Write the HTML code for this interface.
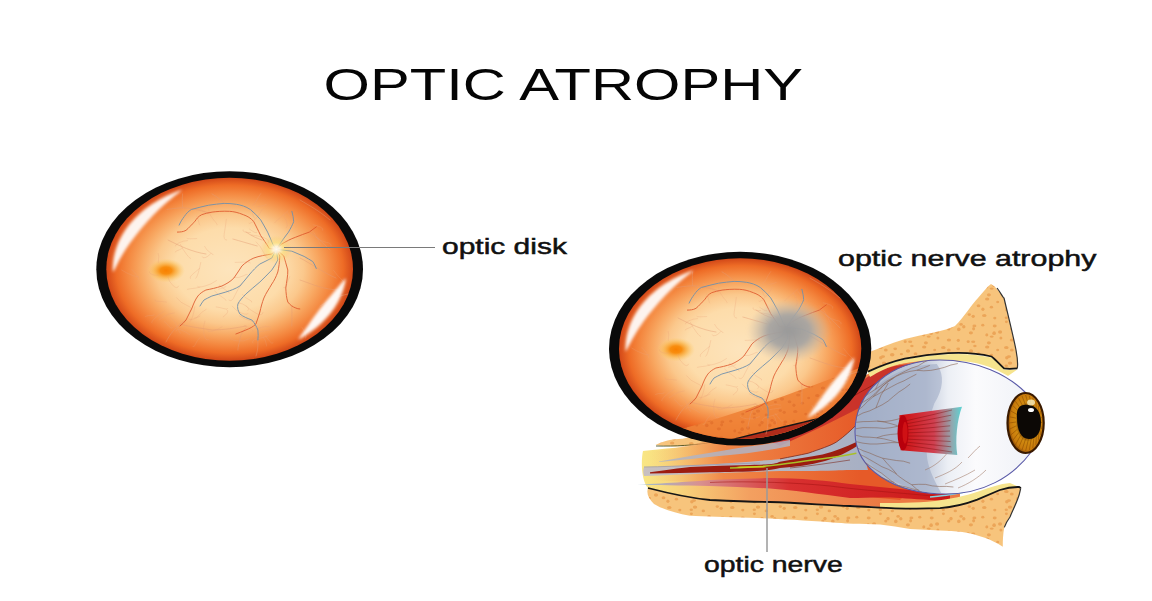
<!DOCTYPE html>
<html><head><meta charset="utf-8">
<style>
html,body{margin:0;padding:0;background:#fff;width:1152px;height:601px;overflow:hidden}
svg{display:block}
text{font-family:"Liberation Sans",sans-serif}
</style></head><body>
<svg width="1152" height="601" viewBox="0 0 1152 601">
<defs>
  <radialGradient id="ret" cx="0.5" cy="0.5" r="0.5">
    <stop offset="0" stop-color="#fde4bc"/>
    <stop offset="0.45" stop-color="#fddcaa"/>
    <stop offset="0.6" stop-color="#fbc88c"/>
    <stop offset="0.72" stop-color="#f8a862"/>
    <stop offset="0.83" stop-color="#f48840"/>
    <stop offset="0.92" stop-color="#ee6c26"/>
    <stop offset="1" stop-color="#d24818"/>
  </radialGradient>
  <radialGradient id="mac">
    <stop offset="0" stop-color="#f88000"/>
    <stop offset="0.3" stop-color="#f88a08" stop-opacity="0.95"/>
    <stop offset="0.6" stop-color="#fab040" stop-opacity="0.7"/>
    <stop offset="1" stop-color="#fcd070" stop-opacity="0"/>
  </radialGradient>
  <radialGradient id="disc">
    <stop offset="0" stop-color="#fffaf0"/>
    <stop offset="0.2" stop-color="#fff4d8" stop-opacity="0.9"/>
    <stop offset="0.45" stop-color="#fae27a" stop-opacity="0.6"/>
    <stop offset="0.75" stop-color="#f8d070" stop-opacity="0.3"/>
    <stop offset="1" stop-color="#fbd890" stop-opacity="0"/>
  </radialGradient>
  <radialGradient id="atro">
    <stop offset="0" stop-color="#999999"/>
    <stop offset="0.5" stop-color="#a6a4a2" stop-opacity="0.95"/>
    <stop offset="1" stop-color="#c8b8a8" stop-opacity="0"/>
  </radialGradient>
  <filter id="blur2" x="-20%" y="-20%" width="140%" height="140%"><feGaussianBlur stdDeviation="1.5"/></filter>
  <filter id="blur1" x="-20%" y="-20%" width="140%" height="140%"><feGaussianBlur stdDeviation="1.4"/></filter>
  <g id="vessels" fill="none" stroke-linecap="round" stroke-linejoin="round">
    <path d="M167.8,276.8 Q169.1,282.1 173.2,285.8 T178.6,286.1 M309.3,227.8 Q314.9,232.5 317.8,239.2 T320.9,245.8 M262.5,209.1 Q259.5,215.1 254.7,219.8 T248.9,223.3 M251.1,235.0 Q257.8,235.4 264.1,237.8 T268.3,243.0 M204.9,321.0 Q202.4,327.5 203.9,334.4 T208.5,339.7 M214.6,291.0 Q218.1,294.5 222.4,297.3 T226.2,300.5 M249.5,338.7 Q243.4,342.1 236.5,340.8 T230.1,337.9 M246.0,306.0 Q250.7,310.5 256.5,313.5 T263.0,312.5 M208.5,209.1 Q209.3,215.3 213.6,219.9 T217.2,225.0 M189.8,334.7 Q185.7,331.7 181.0,329.9 T176.1,331.0 M158.2,253.4 Q159.2,256.6 158.5,259.9 T158.6,263.3 M200.8,262.4 Q199.7,268.0 198.1,273.4 T195.7,278.5 M333.6,270.4 Q337.0,275.4 341.5,279.4 T342.7,285.3 M234.6,277.5 Q239.2,278.2 243.2,275.9 T247.5,274.3 M260.8,193.5 Q257.9,197.4 255.8,201.8 T252.6,205.4 M219.3,285.1 Q222.6,288.1 226.3,290.4 T229.6,293.2 M182.5,248.1 Q180.3,249.7 177.6,250.5 T175.2,252.0 M164.2,321.5 Q167.0,323.6 169.1,326.5 T172.4,327.8 M187.6,240.6 Q182.9,240.7 178.8,242.9 T175.2,246.0 M265.1,335.4 Q267.5,338.3 269.7,341.3 T273.0,343.0 M302.0,327.4 Q304.2,330.8 305.6,334.5 T305.3,338.4 M193.1,205.5 Q198.4,209.1 204.3,211.5 T210.5,213.1 M210.7,253.6 Q208.7,256.4 205.5,257.5 T202.2,256.8 M164.1,311.4 Q159.0,314.1 154.9,318.2 T151.8,323.0 M250.6,232.6 Q247.7,232.7 244.9,232.0 T243.0,229.8 M287.5,212.8 Q290.8,217.5 294.5,221.9 T295.1,227.6 M256.1,241.9 Q261.0,246.5 263.7,252.6 T267.5,258.1 M158.2,275.2 Q154.8,275.7 151.6,274.3 T149.4,271.7 M260.0,331.6 Q263.9,330.9 267.8,330.4 T271.6,329.5 M223.3,316.8 Q225.8,315.3 227.3,312.8 T227.0,309.9 M132.0,269.6 Q134.9,272.5 137.2,275.9 T139.0,279.6 M196.8,216.1 Q198.2,219.0 198.8,222.2 T199.8,225.3 M199.7,287.2 Q195.5,288.3 191.0,288.7 T186.7,289.5 M199.5,268.5 Q195.9,271.4 192.4,274.4 T190.2,278.5 M238.1,302.8 Q242.7,303.3 246.4,306.2 T247.8,310.6 M200.0,337.6 Q197.0,340.2 195.7,343.8 T193.0,346.6 M268.0,335.8 Q262.5,337.7 256.8,339.0 T252.8,343.1 M145.5,316.4 Q148.3,315.1 151.4,315.5 T154.3,314.4 M270.6,327.0 Q265.4,325.6 260.4,327.6 T255.1,327.6 M232.3,306.2 Q235.9,311.2 241.8,313.2 T247.9,313.7 M244.7,325.6 Q248.0,327.0 250.9,328.9 T253.0,331.7 M204.6,246.4 Q206.4,250.3 210.1,252.5 T213.7,254.8 M288.0,210.8 Q283.4,214.9 278.7,219.0 T274.1,223.1 M263.4,337.6 Q265.5,339.8 266.0,342.9 T266.5,346.0 M216.2,306.9 Q220.1,307.5 223.8,308.6 T227.7,308.7 M166.5,302.1 Q162.5,301.5 158.4,301.4 T154.9,299.4 M249.6,229.2 Q251.8,230.8 254.3,232.2 T257.0,232.2 M196.7,238.6 Q193.4,238.7 190.1,238.8 T186.7,238.5 M222.1,326.8 Q217.7,329.7 212.7,331.1 T207.5,330.0 M206.1,309.4 Q201.9,311.7 198.8,315.4 T194.7,318.1 M313.2,224.8 Q317.0,225.4 320.5,227.1 T322.8,230.3 M315.8,237.1 Q320.3,241.2 326.2,242.3 T331.1,246.0 M180.5,244.5 Q183.0,249.8 186.6,254.4 T190.6,258.6 M226.3,219.3 Q225.5,226.4 224.3,233.4 T226.7,240.1 M176.5,297.7 Q180.6,303.1 187.0,305.5 T190.7,311.2 M200.0,316.1 Q196.4,318.1 192.6,319.3 T188.6,318.7 M174.3,312.9 Q168.5,313.3 163.8,316.7 T159.1,320.0 M194.8,306.7 Q194.1,312.0 192.5,317.0 T189.9,321.7 M266.3,204.4 Q263.3,205.8 260.0,206.3 T256.7,206.3 M242.6,294.6 Q244.9,298.0 248.7,299.5 T251.9,302.1 M289.7,276.6 Q287.9,280.6 286.8,284.8 T283.7,287.8 M121.6,270.0 Q126.8,273.4 132.7,275.5 T138.9,276.7 M239.4,315.9 Q245.0,319.5 251.5,321.1 T257.7,319.0 M283.3,215.0 Q286.0,218.7 286.9,223.2 T286.2,227.8 M251.3,208.4 Q252.3,211.8 253.0,215.3 T255.0,218.3 M170.7,317.6 Q175.8,321.5 177.7,327.6 T180.6,333.4 M242.1,283.5 Q237.5,289.1 234.7,295.8 T229.0,300.2 M225.9,286.6 Q223.5,287.9 220.9,288.5 T218.3,289.2 M235.2,262.4 Q240.4,262.2 245.5,262.0 T250.6,262.8 M216.5,280.6 Q211.0,284.6 204.4,286.2 T197.5,286.6" stroke="#e8a07a" stroke-width="0.5" opacity="0.55"/>
    <g stroke="#e39a74" stroke-width="0.6" opacity="0.75">
      <path d="M224.2,203.4 C220,199 216,196 212,193.9"/>
      <path d="M182.6,193.9 C182,198 182.4,203 182.6,207.8"/>
      <path d="M208.6,213 C200,210 190,208 182.6,207.8 C176,208 170,209 167,209.5"/>
      <path d="M232.9,239 C240,241 250,244 257.2,246"/>
      <path d="M246,232 C252,236 256,238 262,240"/>
      <path d="M180,324 C190,327 200,328 212,330 C224,330 236,328 246,326"/>
      <path d="M245.9,328 C242,332 240,336 239.9,340 C239,344 238,346 237.9,350"/>
      <path d="M291.8,306 C292,312 292,318 291.8,326"/>
      <path d="M257.9,340 C258,346 258,350 256,356"/>
      <path d="M309.3,232.1 C316,236 322,242 330,250"/>
      <path d="M300,258 C312,264 322,272 336,278"/>
      <path d="M186,320 C176,326 170,334 166,342"/>
      <path d="M168,240 C180,246 192,252 206,254"/>
      <path d="M300,280 C312,284 324,290 340,290"/>
      <path d="M300,200 C310,206 318,210 330,220"/>
      <path d="M320,306 C330,300 338,296 348,294"/>
    </g>
    <g stroke="#dc5228" stroke-width="0.95" opacity="0.85">
      <path d="M276.3,249.3 L269.4,248.6 C266,243 263,239 260.7,235.6 C258,230 256,226 253.8,221.7 C251,218 247,216 243.3,214.7 C238,212.5 234,211.6 229.4,211.3 C222,211 217,211.5 212.1,212.1 C208,212.8 205,213.6 201.7,214.7 C198,216.5 196.5,219 194.7,221.7 C191,225 189,228 186,230.3 C183,232 180,232 177.4,232.1"/>
      <path d="M276.3,249.3 L271.8,254 C266,255 259,256 253.9,258 C249,260 245,263 241.9,266 C239,270 237,274 233.9,278 C230,282 226,284 221.9,286 C216,288 211,289 205.9,290 C202,292 200,293.5 197.9,296 C195,300 193.5,304 192,308 C190,312 188,316 186,320 C184,322.5 182,324.5 180,326"/>
      <path d="M276.3,249.3 L279.8,256 C279.5,262 279,267 277.8,272 C276,277 274,281 271.8,284 C269,289 266,293 263.9,298 C262,303 261,307 259.9,312 C258.5,316 257.5,320 255.9,324 C253,327 249.5,328.5 245.9,330 C242,331.5 239,333 235.9,334"/>
      <path d="M276.3,249.3 L283.8,256 C285,260.5 286.5,265 287.8,270 C288,276 286.5,282 285.8,288 C286,293 286.5,298 287.8,302 C290,305 293,307 295.8,308 C297,308.5 298.5,309 299.8,309"/>
      <path d="M276.3,249.3 L281.5,244.2 C286,241.5 290.5,239 295.4,237.3 C300,235.5 305,233.5 309.3,232.1 C312,230 314,228.5 316.3,226.9"/>
    </g>
    <g stroke="#7090ac" stroke-width="1.0" opacity="0.9">
      <path d="M276.3,249.3 L272.8,244.2 C271,240 269.5,236 267.6,232.1 C265.5,228 263,224 260.7,219.9 C257.5,216 254,212.5 250.3,209.5 C246,206.5 241,205 236.4,204.3 C232,203.6 228,203.4 224.2,203.4 C219,203.8 214,204.4 208.6,205.2 C203,206.5 197,207.8 191.3,209.5 C188,211.5 186,214 184.3,216.5 C182,219.5 180.5,222 179.1,225.1"/>
      <path d="M276.3,249.3 L271.8,258 C268,260 264,262 259.9,264 C256,267 253,270.5 249.9,274 C246.5,278 243.5,282 239.9,286 C235,289 230.5,290.5 225.9,292 C221,293.5 216.5,294.7 211.9,296 C209,297.5 206.5,298.5 204,300 C202.5,302 201,304 200,306"/>
      <path d="M276.3,249.3 L277.8,260 C276,263.5 274,267 271.8,270 C268,274 264,278 259.9,282 C255,286 250.5,290 245.9,294 C242.5,297.5 239.5,300.5 237.9,304 C237,307.5 238,311 239.9,314 C243.5,317 248,318.5 251.9,320 C254.5,323 256.5,326.5 257.9,330 C258.3,333.5 258.2,337 257.9,340"/>
      <path d="M276.3,249.3 L279.8,244.2 C282.5,240 285.5,236 288.5,232.1 C290.5,228.5 292.5,225 293.7,221.7 C293.5,218 292.8,214.5 291.9,211.3"/>
      <path d="M276.3,249.3 L291.9,251.2 C296,253 300,254.7 304.1,256.4 C307,258 310,259.8 312.8,261.6 C314.3,264 315.5,266 316.3,268.5"/>
    </g>
  </g>
  
  <pattern id="dots" width="63" height="48" patternUnits="userSpaceOnUse"><rect width="63" height="48" fill="#f7c47c"/><g fill="#eaa052" opacity="0.85"><ellipse cx="-59.1" cy="-43.9" rx="2.2" ry="1.5"/><ellipse cx="-59.1" cy="4.1" rx="2.2" ry="1.5"/><ellipse cx="-59.1" cy="52.1" rx="2.2" ry="1.5"/><ellipse cx="3.9" cy="-43.9" rx="2.2" ry="1.5"/><ellipse cx="3.9" cy="4.1" rx="2.2" ry="1.5"/><ellipse cx="3.9" cy="52.1" rx="2.2" ry="1.5"/><ellipse cx="66.9" cy="-43.9" rx="2.2" ry="1.5"/><ellipse cx="66.9" cy="4.1" rx="2.2" ry="1.5"/><ellipse cx="66.9" cy="52.1" rx="2.2" ry="1.5"/><ellipse cx="-49.7" cy="-43.7" rx="1.6" ry="1.6"/><ellipse cx="-49.7" cy="4.3" rx="1.6" ry="1.6"/><ellipse cx="-49.7" cy="52.3" rx="1.6" ry="1.6"/><ellipse cx="13.3" cy="-43.7" rx="1.6" ry="1.6"/><ellipse cx="13.3" cy="4.3" rx="1.6" ry="1.6"/><ellipse cx="13.3" cy="52.3" rx="1.6" ry="1.6"/><ellipse cx="76.3" cy="-43.7" rx="1.6" ry="1.6"/><ellipse cx="76.3" cy="4.3" rx="1.6" ry="1.6"/><ellipse cx="76.3" cy="52.3" rx="1.6" ry="1.6"/><ellipse cx="-39.8" cy="-42.3" rx="1.6" ry="1.4"/><ellipse cx="-39.8" cy="5.7" rx="1.6" ry="1.4"/><ellipse cx="-39.8" cy="53.7" rx="1.6" ry="1.4"/><ellipse cx="23.2" cy="-42.3" rx="1.6" ry="1.4"/><ellipse cx="23.2" cy="5.7" rx="1.6" ry="1.4"/><ellipse cx="23.2" cy="53.7" rx="1.6" ry="1.4"/><ellipse cx="86.2" cy="-42.3" rx="1.6" ry="1.4"/><ellipse cx="86.2" cy="5.7" rx="1.6" ry="1.4"/><ellipse cx="86.2" cy="53.7" rx="1.6" ry="1.4"/><ellipse cx="-34.8" cy="-42.2" rx="2.1" ry="1.2"/><ellipse cx="-34.8" cy="5.8" rx="2.1" ry="1.2"/><ellipse cx="-34.8" cy="53.8" rx="2.1" ry="1.2"/><ellipse cx="28.2" cy="-42.2" rx="2.1" ry="1.2"/><ellipse cx="28.2" cy="5.8" rx="2.1" ry="1.2"/><ellipse cx="28.2" cy="53.8" rx="2.1" ry="1.2"/><ellipse cx="91.2" cy="-42.2" rx="2.1" ry="1.2"/><ellipse cx="91.2" cy="5.8" rx="2.1" ry="1.2"/><ellipse cx="91.2" cy="53.8" rx="2.1" ry="1.2"/><ellipse cx="-19.1" cy="-41.2" rx="2.0" ry="1.6"/><ellipse cx="-19.1" cy="6.8" rx="2.0" ry="1.6"/><ellipse cx="-19.1" cy="54.8" rx="2.0" ry="1.6"/><ellipse cx="43.9" cy="-41.2" rx="2.0" ry="1.6"/><ellipse cx="43.9" cy="6.8" rx="2.0" ry="1.6"/><ellipse cx="43.9" cy="54.8" rx="2.0" ry="1.6"/><ellipse cx="106.9" cy="-41.2" rx="2.0" ry="1.6"/><ellipse cx="106.9" cy="6.8" rx="2.0" ry="1.6"/><ellipse cx="106.9" cy="54.8" rx="2.0" ry="1.6"/><ellipse cx="-16.3" cy="-47.4" rx="1.9" ry="1.2"/><ellipse cx="-16.3" cy="0.6" rx="1.9" ry="1.2"/><ellipse cx="-16.3" cy="48.6" rx="1.9" ry="1.2"/><ellipse cx="46.7" cy="-47.4" rx="1.9" ry="1.2"/><ellipse cx="46.7" cy="0.6" rx="1.9" ry="1.2"/><ellipse cx="46.7" cy="48.6" rx="1.9" ry="1.2"/><ellipse cx="109.7" cy="-47.4" rx="1.9" ry="1.2"/><ellipse cx="109.7" cy="0.6" rx="1.9" ry="1.2"/><ellipse cx="109.7" cy="48.6" rx="1.9" ry="1.2"/><ellipse cx="-7.1" cy="-45.9" rx="1.5" ry="1.5"/><ellipse cx="-7.1" cy="2.1" rx="1.5" ry="1.5"/><ellipse cx="-7.1" cy="50.1" rx="1.5" ry="1.5"/><ellipse cx="55.9" cy="-45.9" rx="1.5" ry="1.5"/><ellipse cx="55.9" cy="2.1" rx="1.5" ry="1.5"/><ellipse cx="55.9" cy="50.1" rx="1.5" ry="1.5"/><ellipse cx="118.9" cy="-45.9" rx="1.5" ry="1.5"/><ellipse cx="118.9" cy="2.1" rx="1.5" ry="1.5"/><ellipse cx="118.9" cy="50.1" rx="1.5" ry="1.5"/><ellipse cx="-59.2" cy="-34.0" rx="1.9" ry="1.6"/><ellipse cx="-59.2" cy="14.0" rx="1.9" ry="1.6"/><ellipse cx="-59.2" cy="62.0" rx="1.9" ry="1.6"/><ellipse cx="3.8" cy="-34.0" rx="1.9" ry="1.6"/><ellipse cx="3.8" cy="14.0" rx="1.9" ry="1.6"/><ellipse cx="3.8" cy="62.0" rx="1.9" ry="1.6"/><ellipse cx="66.8" cy="-34.0" rx="1.9" ry="1.6"/><ellipse cx="66.8" cy="14.0" rx="1.9" ry="1.6"/><ellipse cx="66.8" cy="62.0" rx="1.9" ry="1.6"/><ellipse cx="-49.8" cy="-35.2" rx="1.9" ry="1.4"/><ellipse cx="-49.8" cy="12.8" rx="1.9" ry="1.4"/><ellipse cx="-49.8" cy="60.8" rx="1.9" ry="1.4"/><ellipse cx="13.2" cy="-35.2" rx="1.9" ry="1.4"/><ellipse cx="13.2" cy="12.8" rx="1.9" ry="1.4"/><ellipse cx="13.2" cy="60.8" rx="1.9" ry="1.4"/><ellipse cx="76.2" cy="-35.2" rx="1.9" ry="1.4"/><ellipse cx="76.2" cy="12.8" rx="1.9" ry="1.4"/><ellipse cx="76.2" cy="60.8" rx="1.9" ry="1.4"/><ellipse cx="-37.0" cy="-33.0" rx="2.2" ry="1.7"/><ellipse cx="-37.0" cy="15.0" rx="2.2" ry="1.7"/><ellipse cx="-37.0" cy="63.0" rx="2.2" ry="1.7"/><ellipse cx="26.0" cy="-33.0" rx="2.2" ry="1.7"/><ellipse cx="26.0" cy="15.0" rx="2.2" ry="1.7"/><ellipse cx="26.0" cy="63.0" rx="2.2" ry="1.7"/><ellipse cx="89.0" cy="-33.0" rx="2.2" ry="1.7"/><ellipse cx="89.0" cy="15.0" rx="2.2" ry="1.7"/><ellipse cx="89.0" cy="63.0" rx="2.2" ry="1.7"/><ellipse cx="-33.1" cy="-38.0" rx="1.7" ry="1.2"/><ellipse cx="-33.1" cy="10.0" rx="1.7" ry="1.2"/><ellipse cx="-33.1" cy="58.0" rx="1.7" ry="1.2"/><ellipse cx="29.9" cy="-38.0" rx="1.7" ry="1.2"/><ellipse cx="29.9" cy="10.0" rx="1.7" ry="1.2"/><ellipse cx="29.9" cy="58.0" rx="1.7" ry="1.2"/><ellipse cx="92.9" cy="-38.0" rx="1.7" ry="1.2"/><ellipse cx="92.9" cy="10.0" rx="1.7" ry="1.2"/><ellipse cx="92.9" cy="58.0" rx="1.7" ry="1.2"/><ellipse cx="-20.8" cy="-36.9" rx="2.2" ry="1.5"/><ellipse cx="-20.8" cy="11.1" rx="2.2" ry="1.5"/><ellipse cx="-20.8" cy="59.1" rx="2.2" ry="1.5"/><ellipse cx="42.2" cy="-36.9" rx="2.2" ry="1.5"/><ellipse cx="42.2" cy="11.1" rx="2.2" ry="1.5"/><ellipse cx="42.2" cy="59.1" rx="2.2" ry="1.5"/><ellipse cx="105.2" cy="-36.9" rx="2.2" ry="1.5"/><ellipse cx="105.2" cy="11.1" rx="2.2" ry="1.5"/><ellipse cx="105.2" cy="59.1" rx="2.2" ry="1.5"/><ellipse cx="-10.3" cy="-34.0" rx="1.5" ry="1.3"/><ellipse cx="-10.3" cy="14.0" rx="1.5" ry="1.3"/><ellipse cx="-10.3" cy="62.0" rx="1.5" ry="1.3"/><ellipse cx="52.7" cy="-34.0" rx="1.5" ry="1.3"/><ellipse cx="52.7" cy="14.0" rx="1.5" ry="1.3"/><ellipse cx="52.7" cy="62.0" rx="1.5" ry="1.3"/><ellipse cx="115.7" cy="-34.0" rx="1.5" ry="1.3"/><ellipse cx="115.7" cy="14.0" rx="1.5" ry="1.3"/><ellipse cx="115.7" cy="62.0" rx="1.5" ry="1.3"/><ellipse cx="-1.7" cy="-36.4" rx="2.3" ry="1.5"/><ellipse cx="-1.7" cy="11.6" rx="2.3" ry="1.5"/><ellipse cx="-1.7" cy="59.6" rx="2.3" ry="1.5"/><ellipse cx="61.3" cy="-36.4" rx="2.3" ry="1.5"/><ellipse cx="61.3" cy="11.6" rx="2.3" ry="1.5"/><ellipse cx="61.3" cy="59.6" rx="2.3" ry="1.5"/><ellipse cx="124.3" cy="-36.4" rx="2.3" ry="1.5"/><ellipse cx="124.3" cy="11.6" rx="2.3" ry="1.5"/><ellipse cx="124.3" cy="59.6" rx="2.3" ry="1.5"/><ellipse cx="-62.0" cy="-27.4" rx="2.1" ry="1.4"/><ellipse cx="-62.0" cy="20.6" rx="2.1" ry="1.4"/><ellipse cx="-62.0" cy="68.6" rx="2.1" ry="1.4"/><ellipse cx="1.0" cy="-27.4" rx="2.1" ry="1.4"/><ellipse cx="1.0" cy="20.6" rx="2.1" ry="1.4"/><ellipse cx="1.0" cy="68.6" rx="2.1" ry="1.4"/><ellipse cx="64.0" cy="-27.4" rx="2.1" ry="1.4"/><ellipse cx="64.0" cy="20.6" rx="2.1" ry="1.4"/><ellipse cx="64.0" cy="68.6" rx="2.1" ry="1.4"/><ellipse cx="-52.8" cy="-29.3" rx="2.3" ry="1.7"/><ellipse cx="-52.8" cy="18.7" rx="2.3" ry="1.7"/><ellipse cx="-52.8" cy="66.7" rx="2.3" ry="1.7"/><ellipse cx="10.2" cy="-29.3" rx="2.3" ry="1.7"/><ellipse cx="10.2" cy="18.7" rx="2.3" ry="1.7"/><ellipse cx="10.2" cy="66.7" rx="2.3" ry="1.7"/><ellipse cx="73.2" cy="-29.3" rx="2.3" ry="1.7"/><ellipse cx="73.2" cy="18.7" rx="2.3" ry="1.7"/><ellipse cx="73.2" cy="66.7" rx="2.3" ry="1.7"/><ellipse cx="-43.6" cy="-29.9" rx="1.6" ry="1.2"/><ellipse cx="-43.6" cy="18.1" rx="1.6" ry="1.2"/><ellipse cx="-43.6" cy="66.1" rx="1.6" ry="1.2"/><ellipse cx="19.4" cy="-29.9" rx="1.6" ry="1.2"/><ellipse cx="19.4" cy="18.1" rx="1.6" ry="1.2"/><ellipse cx="19.4" cy="66.1" rx="1.6" ry="1.2"/><ellipse cx="82.4" cy="-29.9" rx="1.6" ry="1.2"/><ellipse cx="82.4" cy="18.1" rx="1.6" ry="1.2"/><ellipse cx="82.4" cy="66.1" rx="1.6" ry="1.2"/><ellipse cx="-29.5" cy="-30.3" rx="1.9" ry="1.5"/><ellipse cx="-29.5" cy="17.7" rx="1.9" ry="1.5"/><ellipse cx="-29.5" cy="65.7" rx="1.9" ry="1.5"/><ellipse cx="33.5" cy="-30.3" rx="1.9" ry="1.5"/><ellipse cx="33.5" cy="17.7" rx="1.9" ry="1.5"/><ellipse cx="33.5" cy="65.7" rx="1.9" ry="1.5"/><ellipse cx="96.5" cy="-30.3" rx="1.9" ry="1.5"/><ellipse cx="96.5" cy="17.7" rx="1.9" ry="1.5"/><ellipse cx="96.5" cy="65.7" rx="1.9" ry="1.5"/><ellipse cx="-25.1" cy="-26.7" rx="1.6" ry="1.7"/><ellipse cx="-25.1" cy="21.3" rx="1.6" ry="1.7"/><ellipse cx="-25.1" cy="69.3" rx="1.6" ry="1.7"/><ellipse cx="37.9" cy="-26.7" rx="1.6" ry="1.7"/><ellipse cx="37.9" cy="21.3" rx="1.6" ry="1.7"/><ellipse cx="37.9" cy="69.3" rx="1.6" ry="1.7"/><ellipse cx="100.9" cy="-26.7" rx="1.6" ry="1.7"/><ellipse cx="100.9" cy="21.3" rx="1.6" ry="1.7"/><ellipse cx="100.9" cy="69.3" rx="1.6" ry="1.7"/><ellipse cx="-16.6" cy="-28.8" rx="1.7" ry="1.4"/><ellipse cx="-16.6" cy="19.2" rx="1.7" ry="1.4"/><ellipse cx="-16.6" cy="67.2" rx="1.7" ry="1.4"/><ellipse cx="46.4" cy="-28.8" rx="1.7" ry="1.4"/><ellipse cx="46.4" cy="19.2" rx="1.7" ry="1.4"/><ellipse cx="46.4" cy="67.2" rx="1.7" ry="1.4"/><ellipse cx="109.4" cy="-28.8" rx="1.7" ry="1.4"/><ellipse cx="109.4" cy="19.2" rx="1.7" ry="1.4"/><ellipse cx="109.4" cy="67.2" rx="1.7" ry="1.4"/><ellipse cx="-1.2" cy="-26.3" rx="1.7" ry="1.8"/><ellipse cx="-1.2" cy="21.7" rx="1.7" ry="1.8"/><ellipse cx="-1.2" cy="69.7" rx="1.7" ry="1.8"/><ellipse cx="61.8" cy="-26.3" rx="1.7" ry="1.8"/><ellipse cx="61.8" cy="21.7" rx="1.7" ry="1.8"/><ellipse cx="61.8" cy="69.7" rx="1.7" ry="1.8"/><ellipse cx="124.8" cy="-26.3" rx="1.7" ry="1.8"/><ellipse cx="124.8" cy="21.7" rx="1.7" ry="1.8"/><ellipse cx="124.8" cy="69.7" rx="1.7" ry="1.8"/><ellipse cx="-60.9" cy="-20.9" rx="2.2" ry="1.6"/><ellipse cx="-60.9" cy="27.1" rx="2.2" ry="1.6"/><ellipse cx="-60.9" cy="75.1" rx="2.2" ry="1.6"/><ellipse cx="2.1" cy="-20.9" rx="2.2" ry="1.6"/><ellipse cx="2.1" cy="27.1" rx="2.2" ry="1.6"/><ellipse cx="2.1" cy="75.1" rx="2.2" ry="1.6"/><ellipse cx="65.1" cy="-20.9" rx="2.2" ry="1.6"/><ellipse cx="65.1" cy="27.1" rx="2.2" ry="1.6"/><ellipse cx="65.1" cy="75.1" rx="2.2" ry="1.6"/><ellipse cx="-52.7" cy="-17.1" rx="1.7" ry="1.4"/><ellipse cx="-52.7" cy="30.9" rx="1.7" ry="1.4"/><ellipse cx="-52.7" cy="78.9" rx="1.7" ry="1.4"/><ellipse cx="10.3" cy="-17.1" rx="1.7" ry="1.4"/><ellipse cx="10.3" cy="30.9" rx="1.7" ry="1.4"/><ellipse cx="10.3" cy="78.9" rx="1.7" ry="1.4"/><ellipse cx="73.3" cy="-17.1" rx="1.7" ry="1.4"/><ellipse cx="73.3" cy="30.9" rx="1.7" ry="1.4"/><ellipse cx="73.3" cy="78.9" rx="1.7" ry="1.4"/><ellipse cx="-38.7" cy="-21.4" rx="1.7" ry="1.3"/><ellipse cx="-38.7" cy="26.6" rx="1.7" ry="1.3"/><ellipse cx="-38.7" cy="74.6" rx="1.7" ry="1.3"/><ellipse cx="24.3" cy="-21.4" rx="1.7" ry="1.3"/><ellipse cx="24.3" cy="26.6" rx="1.7" ry="1.3"/><ellipse cx="24.3" cy="74.6" rx="1.7" ry="1.3"/><ellipse cx="87.3" cy="-21.4" rx="1.7" ry="1.3"/><ellipse cx="87.3" cy="26.6" rx="1.7" ry="1.3"/><ellipse cx="87.3" cy="74.6" rx="1.7" ry="1.3"/><ellipse cx="-34.8" cy="-19.7" rx="1.7" ry="1.6"/><ellipse cx="-34.8" cy="28.3" rx="1.7" ry="1.6"/><ellipse cx="-34.8" cy="76.3" rx="1.7" ry="1.6"/><ellipse cx="28.2" cy="-19.7" rx="1.7" ry="1.6"/><ellipse cx="28.2" cy="28.3" rx="1.7" ry="1.6"/><ellipse cx="28.2" cy="76.3" rx="1.7" ry="1.6"/><ellipse cx="91.2" cy="-19.7" rx="1.7" ry="1.6"/><ellipse cx="91.2" cy="28.3" rx="1.7" ry="1.6"/><ellipse cx="91.2" cy="76.3" rx="1.7" ry="1.6"/><ellipse cx="-23.7" cy="-20.6" rx="2.3" ry="1.5"/><ellipse cx="-23.7" cy="27.4" rx="2.3" ry="1.5"/><ellipse cx="-23.7" cy="75.4" rx="2.3" ry="1.5"/><ellipse cx="39.3" cy="-20.6" rx="2.3" ry="1.5"/><ellipse cx="39.3" cy="27.4" rx="2.3" ry="1.5"/><ellipse cx="39.3" cy="75.4" rx="2.3" ry="1.5"/><ellipse cx="102.3" cy="-20.6" rx="2.3" ry="1.5"/><ellipse cx="102.3" cy="27.4" rx="2.3" ry="1.5"/><ellipse cx="102.3" cy="75.4" rx="2.3" ry="1.5"/><ellipse cx="-13.2" cy="-17.9" rx="1.6" ry="1.3"/><ellipse cx="-13.2" cy="30.1" rx="1.6" ry="1.3"/><ellipse cx="-13.2" cy="78.1" rx="1.6" ry="1.3"/><ellipse cx="49.8" cy="-17.9" rx="1.6" ry="1.3"/><ellipse cx="49.8" cy="30.1" rx="1.6" ry="1.3"/><ellipse cx="49.8" cy="78.1" rx="1.6" ry="1.3"/><ellipse cx="112.8" cy="-17.9" rx="1.6" ry="1.3"/><ellipse cx="112.8" cy="30.1" rx="1.6" ry="1.3"/><ellipse cx="112.8" cy="78.1" rx="1.6" ry="1.3"/><ellipse cx="-1.7" cy="-18.2" rx="1.7" ry="1.3"/><ellipse cx="-1.7" cy="29.8" rx="1.7" ry="1.3"/><ellipse cx="-1.7" cy="77.8" rx="1.7" ry="1.3"/><ellipse cx="61.3" cy="-18.2" rx="1.7" ry="1.3"/><ellipse cx="61.3" cy="29.8" rx="1.7" ry="1.3"/><ellipse cx="61.3" cy="77.8" rx="1.7" ry="1.3"/><ellipse cx="124.3" cy="-18.2" rx="1.7" ry="1.3"/><ellipse cx="124.3" cy="29.8" rx="1.7" ry="1.3"/><ellipse cx="124.3" cy="77.8" rx="1.7" ry="1.3"/><ellipse cx="-57.0" cy="-9.4" rx="1.7" ry="1.9"/><ellipse cx="-57.0" cy="38.6" rx="1.7" ry="1.9"/><ellipse cx="-57.0" cy="86.6" rx="1.7" ry="1.9"/><ellipse cx="6.0" cy="-9.4" rx="1.7" ry="1.9"/><ellipse cx="6.0" cy="38.6" rx="1.7" ry="1.9"/><ellipse cx="6.0" cy="86.6" rx="1.7" ry="1.9"/><ellipse cx="69.0" cy="-9.4" rx="1.7" ry="1.9"/><ellipse cx="69.0" cy="38.6" rx="1.7" ry="1.9"/><ellipse cx="69.0" cy="86.6" rx="1.7" ry="1.9"/><ellipse cx="-46.9" cy="-11.6" rx="1.8" ry="1.3"/><ellipse cx="-46.9" cy="36.4" rx="1.8" ry="1.3"/><ellipse cx="-46.9" cy="84.4" rx="1.8" ry="1.3"/><ellipse cx="16.1" cy="-11.6" rx="1.8" ry="1.3"/><ellipse cx="16.1" cy="36.4" rx="1.8" ry="1.3"/><ellipse cx="16.1" cy="84.4" rx="1.8" ry="1.3"/><ellipse cx="79.1" cy="-11.6" rx="1.8" ry="1.3"/><ellipse cx="79.1" cy="36.4" rx="1.8" ry="1.3"/><ellipse cx="79.1" cy="84.4" rx="1.8" ry="1.3"/><ellipse cx="-44.2" cy="-9.2" rx="1.7" ry="1.7"/><ellipse cx="-44.2" cy="38.8" rx="1.7" ry="1.7"/><ellipse cx="-44.2" cy="86.8" rx="1.7" ry="1.7"/><ellipse cx="18.8" cy="-9.2" rx="1.7" ry="1.7"/><ellipse cx="18.8" cy="38.8" rx="1.7" ry="1.7"/><ellipse cx="18.8" cy="86.8" rx="1.7" ry="1.7"/><ellipse cx="81.8" cy="-9.2" rx="1.7" ry="1.7"/><ellipse cx="81.8" cy="38.8" rx="1.7" ry="1.7"/><ellipse cx="81.8" cy="86.8" rx="1.7" ry="1.7"/><ellipse cx="-33.6" cy="-10.1" rx="2.0" ry="1.4"/><ellipse cx="-33.6" cy="37.9" rx="2.0" ry="1.4"/><ellipse cx="-33.6" cy="85.9" rx="2.0" ry="1.4"/><ellipse cx="29.4" cy="-10.1" rx="2.0" ry="1.4"/><ellipse cx="29.4" cy="37.9" rx="2.0" ry="1.4"/><ellipse cx="29.4" cy="85.9" rx="2.0" ry="1.4"/><ellipse cx="92.4" cy="-10.1" rx="2.0" ry="1.4"/><ellipse cx="92.4" cy="37.9" rx="2.0" ry="1.4"/><ellipse cx="92.4" cy="85.9" rx="2.0" ry="1.4"/><ellipse cx="-25.2" cy="-10.8" rx="1.6" ry="1.4"/><ellipse cx="-25.2" cy="37.2" rx="1.6" ry="1.4"/><ellipse cx="-25.2" cy="85.2" rx="1.6" ry="1.4"/><ellipse cx="37.8" cy="-10.8" rx="1.6" ry="1.4"/><ellipse cx="37.8" cy="37.2" rx="1.6" ry="1.4"/><ellipse cx="37.8" cy="85.2" rx="1.6" ry="1.4"/><ellipse cx="100.8" cy="-10.8" rx="1.6" ry="1.4"/><ellipse cx="100.8" cy="37.2" rx="1.6" ry="1.4"/><ellipse cx="100.8" cy="85.2" rx="1.6" ry="1.4"/><ellipse cx="-13.3" cy="-10.0" rx="2.0" ry="1.4"/><ellipse cx="-13.3" cy="38.0" rx="2.0" ry="1.4"/><ellipse cx="-13.3" cy="86.0" rx="2.0" ry="1.4"/><ellipse cx="49.7" cy="-10.0" rx="2.0" ry="1.4"/><ellipse cx="49.7" cy="38.0" rx="2.0" ry="1.4"/><ellipse cx="49.7" cy="86.0" rx="2.0" ry="1.4"/><ellipse cx="112.7" cy="-10.0" rx="2.0" ry="1.4"/><ellipse cx="112.7" cy="38.0" rx="2.0" ry="1.4"/><ellipse cx="112.7" cy="86.0" rx="2.0" ry="1.4"/><ellipse cx="-1.6" cy="-14.2" rx="1.5" ry="1.4"/><ellipse cx="-1.6" cy="33.8" rx="1.5" ry="1.4"/><ellipse cx="-1.6" cy="81.8" rx="1.5" ry="1.4"/><ellipse cx="61.4" cy="-14.2" rx="1.5" ry="1.4"/><ellipse cx="61.4" cy="33.8" rx="1.5" ry="1.4"/><ellipse cx="61.4" cy="81.8" rx="1.5" ry="1.4"/><ellipse cx="124.4" cy="-14.2" rx="1.5" ry="1.4"/><ellipse cx="124.4" cy="33.8" rx="1.5" ry="1.4"/><ellipse cx="124.4" cy="81.8" rx="1.5" ry="1.4"/><ellipse cx="-59.2" cy="-7.1" rx="1.6" ry="1.5"/><ellipse cx="-59.2" cy="40.9" rx="1.6" ry="1.5"/><ellipse cx="-59.2" cy="88.9" rx="1.6" ry="1.5"/><ellipse cx="3.8" cy="-7.1" rx="1.6" ry="1.5"/><ellipse cx="3.8" cy="40.9" rx="1.6" ry="1.5"/><ellipse cx="3.8" cy="88.9" rx="1.6" ry="1.5"/><ellipse cx="66.8" cy="-7.1" rx="1.6" ry="1.5"/><ellipse cx="66.8" cy="40.9" rx="1.6" ry="1.5"/><ellipse cx="66.8" cy="88.9" rx="1.6" ry="1.5"/><ellipse cx="-49.2" cy="-6.6" rx="1.8" ry="1.8"/><ellipse cx="-49.2" cy="41.4" rx="1.8" ry="1.8"/><ellipse cx="-49.2" cy="89.4" rx="1.8" ry="1.8"/><ellipse cx="13.8" cy="-6.6" rx="1.8" ry="1.8"/><ellipse cx="13.8" cy="41.4" rx="1.8" ry="1.8"/><ellipse cx="13.8" cy="89.4" rx="1.8" ry="1.8"/><ellipse cx="76.8" cy="-6.6" rx="1.8" ry="1.8"/><ellipse cx="76.8" cy="41.4" rx="1.8" ry="1.8"/><ellipse cx="76.8" cy="89.4" rx="1.8" ry="1.8"/><ellipse cx="-37.1" cy="-3.2" rx="2.1" ry="1.6"/><ellipse cx="-37.1" cy="44.8" rx="2.1" ry="1.6"/><ellipse cx="-37.1" cy="92.8" rx="2.1" ry="1.6"/><ellipse cx="25.9" cy="-3.2" rx="2.1" ry="1.6"/><ellipse cx="25.9" cy="44.8" rx="2.1" ry="1.6"/><ellipse cx="25.9" cy="92.8" rx="2.1" ry="1.6"/><ellipse cx="88.9" cy="-3.2" rx="2.1" ry="1.6"/><ellipse cx="88.9" cy="44.8" rx="2.1" ry="1.6"/><ellipse cx="88.9" cy="92.8" rx="2.1" ry="1.6"/><ellipse cx="-34.4" cy="-7.3" rx="1.5" ry="1.8"/><ellipse cx="-34.4" cy="40.7" rx="1.5" ry="1.8"/><ellipse cx="-34.4" cy="88.7" rx="1.5" ry="1.8"/><ellipse cx="28.6" cy="-7.3" rx="1.5" ry="1.8"/><ellipse cx="28.6" cy="40.7" rx="1.5" ry="1.8"/><ellipse cx="28.6" cy="88.7" rx="1.5" ry="1.8"/><ellipse cx="91.6" cy="-7.3" rx="1.5" ry="1.8"/><ellipse cx="91.6" cy="40.7" rx="1.5" ry="1.8"/><ellipse cx="91.6" cy="88.7" rx="1.5" ry="1.8"/><ellipse cx="-21.2" cy="-1.2" rx="1.5" ry="1.6"/><ellipse cx="-21.2" cy="46.8" rx="1.5" ry="1.6"/><ellipse cx="-21.2" cy="94.8" rx="1.5" ry="1.6"/><ellipse cx="41.8" cy="-1.2" rx="1.5" ry="1.6"/><ellipse cx="41.8" cy="46.8" rx="1.5" ry="1.6"/><ellipse cx="41.8" cy="94.8" rx="1.5" ry="1.6"/><ellipse cx="104.8" cy="-1.2" rx="1.5" ry="1.6"/><ellipse cx="104.8" cy="46.8" rx="1.5" ry="1.6"/><ellipse cx="104.8" cy="94.8" rx="1.5" ry="1.6"/><ellipse cx="-13.9" cy="-2.8" rx="1.8" ry="1.9"/><ellipse cx="-13.9" cy="45.2" rx="1.8" ry="1.9"/><ellipse cx="-13.9" cy="93.2" rx="1.8" ry="1.9"/><ellipse cx="49.1" cy="-2.8" rx="1.8" ry="1.9"/><ellipse cx="49.1" cy="45.2" rx="1.8" ry="1.9"/><ellipse cx="49.1" cy="93.2" rx="1.8" ry="1.9"/><ellipse cx="112.1" cy="-2.8" rx="1.8" ry="1.9"/><ellipse cx="112.1" cy="45.2" rx="1.8" ry="1.9"/><ellipse cx="112.1" cy="93.2" rx="1.8" ry="1.9"/><ellipse cx="-7.9" cy="-4.0" rx="2.1" ry="1.8"/><ellipse cx="-7.9" cy="44.0" rx="2.1" ry="1.8"/><ellipse cx="-7.9" cy="92.0" rx="2.1" ry="1.8"/><ellipse cx="55.1" cy="-4.0" rx="2.1" ry="1.8"/><ellipse cx="55.1" cy="44.0" rx="2.1" ry="1.8"/><ellipse cx="55.1" cy="92.0" rx="2.1" ry="1.8"/><ellipse cx="118.1" cy="-4.0" rx="2.1" ry="1.8"/><ellipse cx="118.1" cy="44.0" rx="2.1" ry="1.8"/><ellipse cx="118.1" cy="92.0" rx="2.1" ry="1.8"/></g></pattern>
  <pattern id="dots2" width="63" height="48" patternUnits="userSpaceOnUse"><rect width="63" height="48" fill="#ef8236"/><g fill="#de6a28" opacity="0.7"><ellipse cx="-59.1" cy="-43.9" rx="2.2" ry="1.5"/><ellipse cx="-59.1" cy="4.1" rx="2.2" ry="1.5"/><ellipse cx="-59.1" cy="52.1" rx="2.2" ry="1.5"/><ellipse cx="3.9" cy="-43.9" rx="2.2" ry="1.5"/><ellipse cx="3.9" cy="4.1" rx="2.2" ry="1.5"/><ellipse cx="3.9" cy="52.1" rx="2.2" ry="1.5"/><ellipse cx="66.9" cy="-43.9" rx="2.2" ry="1.5"/><ellipse cx="66.9" cy="4.1" rx="2.2" ry="1.5"/><ellipse cx="66.9" cy="52.1" rx="2.2" ry="1.5"/><ellipse cx="-49.7" cy="-43.7" rx="1.6" ry="1.6"/><ellipse cx="-49.7" cy="4.3" rx="1.6" ry="1.6"/><ellipse cx="-49.7" cy="52.3" rx="1.6" ry="1.6"/><ellipse cx="13.3" cy="-43.7" rx="1.6" ry="1.6"/><ellipse cx="13.3" cy="4.3" rx="1.6" ry="1.6"/><ellipse cx="13.3" cy="52.3" rx="1.6" ry="1.6"/><ellipse cx="76.3" cy="-43.7" rx="1.6" ry="1.6"/><ellipse cx="76.3" cy="4.3" rx="1.6" ry="1.6"/><ellipse cx="76.3" cy="52.3" rx="1.6" ry="1.6"/><ellipse cx="-39.8" cy="-42.3" rx="1.6" ry="1.4"/><ellipse cx="-39.8" cy="5.7" rx="1.6" ry="1.4"/><ellipse cx="-39.8" cy="53.7" rx="1.6" ry="1.4"/><ellipse cx="23.2" cy="-42.3" rx="1.6" ry="1.4"/><ellipse cx="23.2" cy="5.7" rx="1.6" ry="1.4"/><ellipse cx="23.2" cy="53.7" rx="1.6" ry="1.4"/><ellipse cx="86.2" cy="-42.3" rx="1.6" ry="1.4"/><ellipse cx="86.2" cy="5.7" rx="1.6" ry="1.4"/><ellipse cx="86.2" cy="53.7" rx="1.6" ry="1.4"/><ellipse cx="-34.8" cy="-42.2" rx="2.1" ry="1.2"/><ellipse cx="-34.8" cy="5.8" rx="2.1" ry="1.2"/><ellipse cx="-34.8" cy="53.8" rx="2.1" ry="1.2"/><ellipse cx="28.2" cy="-42.2" rx="2.1" ry="1.2"/><ellipse cx="28.2" cy="5.8" rx="2.1" ry="1.2"/><ellipse cx="28.2" cy="53.8" rx="2.1" ry="1.2"/><ellipse cx="91.2" cy="-42.2" rx="2.1" ry="1.2"/><ellipse cx="91.2" cy="5.8" rx="2.1" ry="1.2"/><ellipse cx="91.2" cy="53.8" rx="2.1" ry="1.2"/><ellipse cx="-19.1" cy="-41.2" rx="2.0" ry="1.6"/><ellipse cx="-19.1" cy="6.8" rx="2.0" ry="1.6"/><ellipse cx="-19.1" cy="54.8" rx="2.0" ry="1.6"/><ellipse cx="43.9" cy="-41.2" rx="2.0" ry="1.6"/><ellipse cx="43.9" cy="6.8" rx="2.0" ry="1.6"/><ellipse cx="43.9" cy="54.8" rx="2.0" ry="1.6"/><ellipse cx="106.9" cy="-41.2" rx="2.0" ry="1.6"/><ellipse cx="106.9" cy="6.8" rx="2.0" ry="1.6"/><ellipse cx="106.9" cy="54.8" rx="2.0" ry="1.6"/><ellipse cx="-16.3" cy="-47.4" rx="1.9" ry="1.2"/><ellipse cx="-16.3" cy="0.6" rx="1.9" ry="1.2"/><ellipse cx="-16.3" cy="48.6" rx="1.9" ry="1.2"/><ellipse cx="46.7" cy="-47.4" rx="1.9" ry="1.2"/><ellipse cx="46.7" cy="0.6" rx="1.9" ry="1.2"/><ellipse cx="46.7" cy="48.6" rx="1.9" ry="1.2"/><ellipse cx="109.7" cy="-47.4" rx="1.9" ry="1.2"/><ellipse cx="109.7" cy="0.6" rx="1.9" ry="1.2"/><ellipse cx="109.7" cy="48.6" rx="1.9" ry="1.2"/><ellipse cx="-7.1" cy="-45.9" rx="1.5" ry="1.5"/><ellipse cx="-7.1" cy="2.1" rx="1.5" ry="1.5"/><ellipse cx="-7.1" cy="50.1" rx="1.5" ry="1.5"/><ellipse cx="55.9" cy="-45.9" rx="1.5" ry="1.5"/><ellipse cx="55.9" cy="2.1" rx="1.5" ry="1.5"/><ellipse cx="55.9" cy="50.1" rx="1.5" ry="1.5"/><ellipse cx="118.9" cy="-45.9" rx="1.5" ry="1.5"/><ellipse cx="118.9" cy="2.1" rx="1.5" ry="1.5"/><ellipse cx="118.9" cy="50.1" rx="1.5" ry="1.5"/><ellipse cx="-59.2" cy="-34.0" rx="1.9" ry="1.6"/><ellipse cx="-59.2" cy="14.0" rx="1.9" ry="1.6"/><ellipse cx="-59.2" cy="62.0" rx="1.9" ry="1.6"/><ellipse cx="3.8" cy="-34.0" rx="1.9" ry="1.6"/><ellipse cx="3.8" cy="14.0" rx="1.9" ry="1.6"/><ellipse cx="3.8" cy="62.0" rx="1.9" ry="1.6"/><ellipse cx="66.8" cy="-34.0" rx="1.9" ry="1.6"/><ellipse cx="66.8" cy="14.0" rx="1.9" ry="1.6"/><ellipse cx="66.8" cy="62.0" rx="1.9" ry="1.6"/><ellipse cx="-49.8" cy="-35.2" rx="1.9" ry="1.4"/><ellipse cx="-49.8" cy="12.8" rx="1.9" ry="1.4"/><ellipse cx="-49.8" cy="60.8" rx="1.9" ry="1.4"/><ellipse cx="13.2" cy="-35.2" rx="1.9" ry="1.4"/><ellipse cx="13.2" cy="12.8" rx="1.9" ry="1.4"/><ellipse cx="13.2" cy="60.8" rx="1.9" ry="1.4"/><ellipse cx="76.2" cy="-35.2" rx="1.9" ry="1.4"/><ellipse cx="76.2" cy="12.8" rx="1.9" ry="1.4"/><ellipse cx="76.2" cy="60.8" rx="1.9" ry="1.4"/><ellipse cx="-37.0" cy="-33.0" rx="2.2" ry="1.7"/><ellipse cx="-37.0" cy="15.0" rx="2.2" ry="1.7"/><ellipse cx="-37.0" cy="63.0" rx="2.2" ry="1.7"/><ellipse cx="26.0" cy="-33.0" rx="2.2" ry="1.7"/><ellipse cx="26.0" cy="15.0" rx="2.2" ry="1.7"/><ellipse cx="26.0" cy="63.0" rx="2.2" ry="1.7"/><ellipse cx="89.0" cy="-33.0" rx="2.2" ry="1.7"/><ellipse cx="89.0" cy="15.0" rx="2.2" ry="1.7"/><ellipse cx="89.0" cy="63.0" rx="2.2" ry="1.7"/><ellipse cx="-33.1" cy="-38.0" rx="1.7" ry="1.2"/><ellipse cx="-33.1" cy="10.0" rx="1.7" ry="1.2"/><ellipse cx="-33.1" cy="58.0" rx="1.7" ry="1.2"/><ellipse cx="29.9" cy="-38.0" rx="1.7" ry="1.2"/><ellipse cx="29.9" cy="10.0" rx="1.7" ry="1.2"/><ellipse cx="29.9" cy="58.0" rx="1.7" ry="1.2"/><ellipse cx="92.9" cy="-38.0" rx="1.7" ry="1.2"/><ellipse cx="92.9" cy="10.0" rx="1.7" ry="1.2"/><ellipse cx="92.9" cy="58.0" rx="1.7" ry="1.2"/><ellipse cx="-20.8" cy="-36.9" rx="2.2" ry="1.5"/><ellipse cx="-20.8" cy="11.1" rx="2.2" ry="1.5"/><ellipse cx="-20.8" cy="59.1" rx="2.2" ry="1.5"/><ellipse cx="42.2" cy="-36.9" rx="2.2" ry="1.5"/><ellipse cx="42.2" cy="11.1" rx="2.2" ry="1.5"/><ellipse cx="42.2" cy="59.1" rx="2.2" ry="1.5"/><ellipse cx="105.2" cy="-36.9" rx="2.2" ry="1.5"/><ellipse cx="105.2" cy="11.1" rx="2.2" ry="1.5"/><ellipse cx="105.2" cy="59.1" rx="2.2" ry="1.5"/><ellipse cx="-10.3" cy="-34.0" rx="1.5" ry="1.3"/><ellipse cx="-10.3" cy="14.0" rx="1.5" ry="1.3"/><ellipse cx="-10.3" cy="62.0" rx="1.5" ry="1.3"/><ellipse cx="52.7" cy="-34.0" rx="1.5" ry="1.3"/><ellipse cx="52.7" cy="14.0" rx="1.5" ry="1.3"/><ellipse cx="52.7" cy="62.0" rx="1.5" ry="1.3"/><ellipse cx="115.7" cy="-34.0" rx="1.5" ry="1.3"/><ellipse cx="115.7" cy="14.0" rx="1.5" ry="1.3"/><ellipse cx="115.7" cy="62.0" rx="1.5" ry="1.3"/><ellipse cx="-1.7" cy="-36.4" rx="2.3" ry="1.5"/><ellipse cx="-1.7" cy="11.6" rx="2.3" ry="1.5"/><ellipse cx="-1.7" cy="59.6" rx="2.3" ry="1.5"/><ellipse cx="61.3" cy="-36.4" rx="2.3" ry="1.5"/><ellipse cx="61.3" cy="11.6" rx="2.3" ry="1.5"/><ellipse cx="61.3" cy="59.6" rx="2.3" ry="1.5"/><ellipse cx="124.3" cy="-36.4" rx="2.3" ry="1.5"/><ellipse cx="124.3" cy="11.6" rx="2.3" ry="1.5"/><ellipse cx="124.3" cy="59.6" rx="2.3" ry="1.5"/><ellipse cx="-62.0" cy="-27.4" rx="2.1" ry="1.4"/><ellipse cx="-62.0" cy="20.6" rx="2.1" ry="1.4"/><ellipse cx="-62.0" cy="68.6" rx="2.1" ry="1.4"/><ellipse cx="1.0" cy="-27.4" rx="2.1" ry="1.4"/><ellipse cx="1.0" cy="20.6" rx="2.1" ry="1.4"/><ellipse cx="1.0" cy="68.6" rx="2.1" ry="1.4"/><ellipse cx="64.0" cy="-27.4" rx="2.1" ry="1.4"/><ellipse cx="64.0" cy="20.6" rx="2.1" ry="1.4"/><ellipse cx="64.0" cy="68.6" rx="2.1" ry="1.4"/><ellipse cx="-52.8" cy="-29.3" rx="2.3" ry="1.7"/><ellipse cx="-52.8" cy="18.7" rx="2.3" ry="1.7"/><ellipse cx="-52.8" cy="66.7" rx="2.3" ry="1.7"/><ellipse cx="10.2" cy="-29.3" rx="2.3" ry="1.7"/><ellipse cx="10.2" cy="18.7" rx="2.3" ry="1.7"/><ellipse cx="10.2" cy="66.7" rx="2.3" ry="1.7"/><ellipse cx="73.2" cy="-29.3" rx="2.3" ry="1.7"/><ellipse cx="73.2" cy="18.7" rx="2.3" ry="1.7"/><ellipse cx="73.2" cy="66.7" rx="2.3" ry="1.7"/><ellipse cx="-43.6" cy="-29.9" rx="1.6" ry="1.2"/><ellipse cx="-43.6" cy="18.1" rx="1.6" ry="1.2"/><ellipse cx="-43.6" cy="66.1" rx="1.6" ry="1.2"/><ellipse cx="19.4" cy="-29.9" rx="1.6" ry="1.2"/><ellipse cx="19.4" cy="18.1" rx="1.6" ry="1.2"/><ellipse cx="19.4" cy="66.1" rx="1.6" ry="1.2"/><ellipse cx="82.4" cy="-29.9" rx="1.6" ry="1.2"/><ellipse cx="82.4" cy="18.1" rx="1.6" ry="1.2"/><ellipse cx="82.4" cy="66.1" rx="1.6" ry="1.2"/><ellipse cx="-29.5" cy="-30.3" rx="1.9" ry="1.5"/><ellipse cx="-29.5" cy="17.7" rx="1.9" ry="1.5"/><ellipse cx="-29.5" cy="65.7" rx="1.9" ry="1.5"/><ellipse cx="33.5" cy="-30.3" rx="1.9" ry="1.5"/><ellipse cx="33.5" cy="17.7" rx="1.9" ry="1.5"/><ellipse cx="33.5" cy="65.7" rx="1.9" ry="1.5"/><ellipse cx="96.5" cy="-30.3" rx="1.9" ry="1.5"/><ellipse cx="96.5" cy="17.7" rx="1.9" ry="1.5"/><ellipse cx="96.5" cy="65.7" rx="1.9" ry="1.5"/><ellipse cx="-25.1" cy="-26.7" rx="1.6" ry="1.7"/><ellipse cx="-25.1" cy="21.3" rx="1.6" ry="1.7"/><ellipse cx="-25.1" cy="69.3" rx="1.6" ry="1.7"/><ellipse cx="37.9" cy="-26.7" rx="1.6" ry="1.7"/><ellipse cx="37.9" cy="21.3" rx="1.6" ry="1.7"/><ellipse cx="37.9" cy="69.3" rx="1.6" ry="1.7"/><ellipse cx="100.9" cy="-26.7" rx="1.6" ry="1.7"/><ellipse cx="100.9" cy="21.3" rx="1.6" ry="1.7"/><ellipse cx="100.9" cy="69.3" rx="1.6" ry="1.7"/><ellipse cx="-16.6" cy="-28.8" rx="1.7" ry="1.4"/><ellipse cx="-16.6" cy="19.2" rx="1.7" ry="1.4"/><ellipse cx="-16.6" cy="67.2" rx="1.7" ry="1.4"/><ellipse cx="46.4" cy="-28.8" rx="1.7" ry="1.4"/><ellipse cx="46.4" cy="19.2" rx="1.7" ry="1.4"/><ellipse cx="46.4" cy="67.2" rx="1.7" ry="1.4"/><ellipse cx="109.4" cy="-28.8" rx="1.7" ry="1.4"/><ellipse cx="109.4" cy="19.2" rx="1.7" ry="1.4"/><ellipse cx="109.4" cy="67.2" rx="1.7" ry="1.4"/><ellipse cx="-1.2" cy="-26.3" rx="1.7" ry="1.8"/><ellipse cx="-1.2" cy="21.7" rx="1.7" ry="1.8"/><ellipse cx="-1.2" cy="69.7" rx="1.7" ry="1.8"/><ellipse cx="61.8" cy="-26.3" rx="1.7" ry="1.8"/><ellipse cx="61.8" cy="21.7" rx="1.7" ry="1.8"/><ellipse cx="61.8" cy="69.7" rx="1.7" ry="1.8"/><ellipse cx="124.8" cy="-26.3" rx="1.7" ry="1.8"/><ellipse cx="124.8" cy="21.7" rx="1.7" ry="1.8"/><ellipse cx="124.8" cy="69.7" rx="1.7" ry="1.8"/><ellipse cx="-60.9" cy="-20.9" rx="2.2" ry="1.6"/><ellipse cx="-60.9" cy="27.1" rx="2.2" ry="1.6"/><ellipse cx="-60.9" cy="75.1" rx="2.2" ry="1.6"/><ellipse cx="2.1" cy="-20.9" rx="2.2" ry="1.6"/><ellipse cx="2.1" cy="27.1" rx="2.2" ry="1.6"/><ellipse cx="2.1" cy="75.1" rx="2.2" ry="1.6"/><ellipse cx="65.1" cy="-20.9" rx="2.2" ry="1.6"/><ellipse cx="65.1" cy="27.1" rx="2.2" ry="1.6"/><ellipse cx="65.1" cy="75.1" rx="2.2" ry="1.6"/><ellipse cx="-52.7" cy="-17.1" rx="1.7" ry="1.4"/><ellipse cx="-52.7" cy="30.9" rx="1.7" ry="1.4"/><ellipse cx="-52.7" cy="78.9" rx="1.7" ry="1.4"/><ellipse cx="10.3" cy="-17.1" rx="1.7" ry="1.4"/><ellipse cx="10.3" cy="30.9" rx="1.7" ry="1.4"/><ellipse cx="10.3" cy="78.9" rx="1.7" ry="1.4"/><ellipse cx="73.3" cy="-17.1" rx="1.7" ry="1.4"/><ellipse cx="73.3" cy="30.9" rx="1.7" ry="1.4"/><ellipse cx="73.3" cy="78.9" rx="1.7" ry="1.4"/><ellipse cx="-38.7" cy="-21.4" rx="1.7" ry="1.3"/><ellipse cx="-38.7" cy="26.6" rx="1.7" ry="1.3"/><ellipse cx="-38.7" cy="74.6" rx="1.7" ry="1.3"/><ellipse cx="24.3" cy="-21.4" rx="1.7" ry="1.3"/><ellipse cx="24.3" cy="26.6" rx="1.7" ry="1.3"/><ellipse cx="24.3" cy="74.6" rx="1.7" ry="1.3"/><ellipse cx="87.3" cy="-21.4" rx="1.7" ry="1.3"/><ellipse cx="87.3" cy="26.6" rx="1.7" ry="1.3"/><ellipse cx="87.3" cy="74.6" rx="1.7" ry="1.3"/><ellipse cx="-34.8" cy="-19.7" rx="1.7" ry="1.6"/><ellipse cx="-34.8" cy="28.3" rx="1.7" ry="1.6"/><ellipse cx="-34.8" cy="76.3" rx="1.7" ry="1.6"/><ellipse cx="28.2" cy="-19.7" rx="1.7" ry="1.6"/><ellipse cx="28.2" cy="28.3" rx="1.7" ry="1.6"/><ellipse cx="28.2" cy="76.3" rx="1.7" ry="1.6"/><ellipse cx="91.2" cy="-19.7" rx="1.7" ry="1.6"/><ellipse cx="91.2" cy="28.3" rx="1.7" ry="1.6"/><ellipse cx="91.2" cy="76.3" rx="1.7" ry="1.6"/><ellipse cx="-23.7" cy="-20.6" rx="2.3" ry="1.5"/><ellipse cx="-23.7" cy="27.4" rx="2.3" ry="1.5"/><ellipse cx="-23.7" cy="75.4" rx="2.3" ry="1.5"/><ellipse cx="39.3" cy="-20.6" rx="2.3" ry="1.5"/><ellipse cx="39.3" cy="27.4" rx="2.3" ry="1.5"/><ellipse cx="39.3" cy="75.4" rx="2.3" ry="1.5"/><ellipse cx="102.3" cy="-20.6" rx="2.3" ry="1.5"/><ellipse cx="102.3" cy="27.4" rx="2.3" ry="1.5"/><ellipse cx="102.3" cy="75.4" rx="2.3" ry="1.5"/><ellipse cx="-13.2" cy="-17.9" rx="1.6" ry="1.3"/><ellipse cx="-13.2" cy="30.1" rx="1.6" ry="1.3"/><ellipse cx="-13.2" cy="78.1" rx="1.6" ry="1.3"/><ellipse cx="49.8" cy="-17.9" rx="1.6" ry="1.3"/><ellipse cx="49.8" cy="30.1" rx="1.6" ry="1.3"/><ellipse cx="49.8" cy="78.1" rx="1.6" ry="1.3"/><ellipse cx="112.8" cy="-17.9" rx="1.6" ry="1.3"/><ellipse cx="112.8" cy="30.1" rx="1.6" ry="1.3"/><ellipse cx="112.8" cy="78.1" rx="1.6" ry="1.3"/><ellipse cx="-1.7" cy="-18.2" rx="1.7" ry="1.3"/><ellipse cx="-1.7" cy="29.8" rx="1.7" ry="1.3"/><ellipse cx="-1.7" cy="77.8" rx="1.7" ry="1.3"/><ellipse cx="61.3" cy="-18.2" rx="1.7" ry="1.3"/><ellipse cx="61.3" cy="29.8" rx="1.7" ry="1.3"/><ellipse cx="61.3" cy="77.8" rx="1.7" ry="1.3"/><ellipse cx="124.3" cy="-18.2" rx="1.7" ry="1.3"/><ellipse cx="124.3" cy="29.8" rx="1.7" ry="1.3"/><ellipse cx="124.3" cy="77.8" rx="1.7" ry="1.3"/><ellipse cx="-57.0" cy="-9.4" rx="1.7" ry="1.9"/><ellipse cx="-57.0" cy="38.6" rx="1.7" ry="1.9"/><ellipse cx="-57.0" cy="86.6" rx="1.7" ry="1.9"/><ellipse cx="6.0" cy="-9.4" rx="1.7" ry="1.9"/><ellipse cx="6.0" cy="38.6" rx="1.7" ry="1.9"/><ellipse cx="6.0" cy="86.6" rx="1.7" ry="1.9"/><ellipse cx="69.0" cy="-9.4" rx="1.7" ry="1.9"/><ellipse cx="69.0" cy="38.6" rx="1.7" ry="1.9"/><ellipse cx="69.0" cy="86.6" rx="1.7" ry="1.9"/><ellipse cx="-46.9" cy="-11.6" rx="1.8" ry="1.3"/><ellipse cx="-46.9" cy="36.4" rx="1.8" ry="1.3"/><ellipse cx="-46.9" cy="84.4" rx="1.8" ry="1.3"/><ellipse cx="16.1" cy="-11.6" rx="1.8" ry="1.3"/><ellipse cx="16.1" cy="36.4" rx="1.8" ry="1.3"/><ellipse cx="16.1" cy="84.4" rx="1.8" ry="1.3"/><ellipse cx="79.1" cy="-11.6" rx="1.8" ry="1.3"/><ellipse cx="79.1" cy="36.4" rx="1.8" ry="1.3"/><ellipse cx="79.1" cy="84.4" rx="1.8" ry="1.3"/><ellipse cx="-44.2" cy="-9.2" rx="1.7" ry="1.7"/><ellipse cx="-44.2" cy="38.8" rx="1.7" ry="1.7"/><ellipse cx="-44.2" cy="86.8" rx="1.7" ry="1.7"/><ellipse cx="18.8" cy="-9.2" rx="1.7" ry="1.7"/><ellipse cx="18.8" cy="38.8" rx="1.7" ry="1.7"/><ellipse cx="18.8" cy="86.8" rx="1.7" ry="1.7"/><ellipse cx="81.8" cy="-9.2" rx="1.7" ry="1.7"/><ellipse cx="81.8" cy="38.8" rx="1.7" ry="1.7"/><ellipse cx="81.8" cy="86.8" rx="1.7" ry="1.7"/><ellipse cx="-33.6" cy="-10.1" rx="2.0" ry="1.4"/><ellipse cx="-33.6" cy="37.9" rx="2.0" ry="1.4"/><ellipse cx="-33.6" cy="85.9" rx="2.0" ry="1.4"/><ellipse cx="29.4" cy="-10.1" rx="2.0" ry="1.4"/><ellipse cx="29.4" cy="37.9" rx="2.0" ry="1.4"/><ellipse cx="29.4" cy="85.9" rx="2.0" ry="1.4"/><ellipse cx="92.4" cy="-10.1" rx="2.0" ry="1.4"/><ellipse cx="92.4" cy="37.9" rx="2.0" ry="1.4"/><ellipse cx="92.4" cy="85.9" rx="2.0" ry="1.4"/><ellipse cx="-25.2" cy="-10.8" rx="1.6" ry="1.4"/><ellipse cx="-25.2" cy="37.2" rx="1.6" ry="1.4"/><ellipse cx="-25.2" cy="85.2" rx="1.6" ry="1.4"/><ellipse cx="37.8" cy="-10.8" rx="1.6" ry="1.4"/><ellipse cx="37.8" cy="37.2" rx="1.6" ry="1.4"/><ellipse cx="37.8" cy="85.2" rx="1.6" ry="1.4"/><ellipse cx="100.8" cy="-10.8" rx="1.6" ry="1.4"/><ellipse cx="100.8" cy="37.2" rx="1.6" ry="1.4"/><ellipse cx="100.8" cy="85.2" rx="1.6" ry="1.4"/><ellipse cx="-13.3" cy="-10.0" rx="2.0" ry="1.4"/><ellipse cx="-13.3" cy="38.0" rx="2.0" ry="1.4"/><ellipse cx="-13.3" cy="86.0" rx="2.0" ry="1.4"/><ellipse cx="49.7" cy="-10.0" rx="2.0" ry="1.4"/><ellipse cx="49.7" cy="38.0" rx="2.0" ry="1.4"/><ellipse cx="49.7" cy="86.0" rx="2.0" ry="1.4"/><ellipse cx="112.7" cy="-10.0" rx="2.0" ry="1.4"/><ellipse cx="112.7" cy="38.0" rx="2.0" ry="1.4"/><ellipse cx="112.7" cy="86.0" rx="2.0" ry="1.4"/><ellipse cx="-1.6" cy="-14.2" rx="1.5" ry="1.4"/><ellipse cx="-1.6" cy="33.8" rx="1.5" ry="1.4"/><ellipse cx="-1.6" cy="81.8" rx="1.5" ry="1.4"/><ellipse cx="61.4" cy="-14.2" rx="1.5" ry="1.4"/><ellipse cx="61.4" cy="33.8" rx="1.5" ry="1.4"/><ellipse cx="61.4" cy="81.8" rx="1.5" ry="1.4"/><ellipse cx="124.4" cy="-14.2" rx="1.5" ry="1.4"/><ellipse cx="124.4" cy="33.8" rx="1.5" ry="1.4"/><ellipse cx="124.4" cy="81.8" rx="1.5" ry="1.4"/><ellipse cx="-59.2" cy="-7.1" rx="1.6" ry="1.5"/><ellipse cx="-59.2" cy="40.9" rx="1.6" ry="1.5"/><ellipse cx="-59.2" cy="88.9" rx="1.6" ry="1.5"/><ellipse cx="3.8" cy="-7.1" rx="1.6" ry="1.5"/><ellipse cx="3.8" cy="40.9" rx="1.6" ry="1.5"/><ellipse cx="3.8" cy="88.9" rx="1.6" ry="1.5"/><ellipse cx="66.8" cy="-7.1" rx="1.6" ry="1.5"/><ellipse cx="66.8" cy="40.9" rx="1.6" ry="1.5"/><ellipse cx="66.8" cy="88.9" rx="1.6" ry="1.5"/><ellipse cx="-49.2" cy="-6.6" rx="1.8" ry="1.8"/><ellipse cx="-49.2" cy="41.4" rx="1.8" ry="1.8"/><ellipse cx="-49.2" cy="89.4" rx="1.8" ry="1.8"/><ellipse cx="13.8" cy="-6.6" rx="1.8" ry="1.8"/><ellipse cx="13.8" cy="41.4" rx="1.8" ry="1.8"/><ellipse cx="13.8" cy="89.4" rx="1.8" ry="1.8"/><ellipse cx="76.8" cy="-6.6" rx="1.8" ry="1.8"/><ellipse cx="76.8" cy="41.4" rx="1.8" ry="1.8"/><ellipse cx="76.8" cy="89.4" rx="1.8" ry="1.8"/><ellipse cx="-37.1" cy="-3.2" rx="2.1" ry="1.6"/><ellipse cx="-37.1" cy="44.8" rx="2.1" ry="1.6"/><ellipse cx="-37.1" cy="92.8" rx="2.1" ry="1.6"/><ellipse cx="25.9" cy="-3.2" rx="2.1" ry="1.6"/><ellipse cx="25.9" cy="44.8" rx="2.1" ry="1.6"/><ellipse cx="25.9" cy="92.8" rx="2.1" ry="1.6"/><ellipse cx="88.9" cy="-3.2" rx="2.1" ry="1.6"/><ellipse cx="88.9" cy="44.8" rx="2.1" ry="1.6"/><ellipse cx="88.9" cy="92.8" rx="2.1" ry="1.6"/><ellipse cx="-34.4" cy="-7.3" rx="1.5" ry="1.8"/><ellipse cx="-34.4" cy="40.7" rx="1.5" ry="1.8"/><ellipse cx="-34.4" cy="88.7" rx="1.5" ry="1.8"/><ellipse cx="28.6" cy="-7.3" rx="1.5" ry="1.8"/><ellipse cx="28.6" cy="40.7" rx="1.5" ry="1.8"/><ellipse cx="28.6" cy="88.7" rx="1.5" ry="1.8"/><ellipse cx="91.6" cy="-7.3" rx="1.5" ry="1.8"/><ellipse cx="91.6" cy="40.7" rx="1.5" ry="1.8"/><ellipse cx="91.6" cy="88.7" rx="1.5" ry="1.8"/><ellipse cx="-21.2" cy="-1.2" rx="1.5" ry="1.6"/><ellipse cx="-21.2" cy="46.8" rx="1.5" ry="1.6"/><ellipse cx="-21.2" cy="94.8" rx="1.5" ry="1.6"/><ellipse cx="41.8" cy="-1.2" rx="1.5" ry="1.6"/><ellipse cx="41.8" cy="46.8" rx="1.5" ry="1.6"/><ellipse cx="41.8" cy="94.8" rx="1.5" ry="1.6"/><ellipse cx="104.8" cy="-1.2" rx="1.5" ry="1.6"/><ellipse cx="104.8" cy="46.8" rx="1.5" ry="1.6"/><ellipse cx="104.8" cy="94.8" rx="1.5" ry="1.6"/><ellipse cx="-13.9" cy="-2.8" rx="1.8" ry="1.9"/><ellipse cx="-13.9" cy="45.2" rx="1.8" ry="1.9"/><ellipse cx="-13.9" cy="93.2" rx="1.8" ry="1.9"/><ellipse cx="49.1" cy="-2.8" rx="1.8" ry="1.9"/><ellipse cx="49.1" cy="45.2" rx="1.8" ry="1.9"/><ellipse cx="49.1" cy="93.2" rx="1.8" ry="1.9"/><ellipse cx="112.1" cy="-2.8" rx="1.8" ry="1.9"/><ellipse cx="112.1" cy="45.2" rx="1.8" ry="1.9"/><ellipse cx="112.1" cy="93.2" rx="1.8" ry="1.9"/><ellipse cx="-7.9" cy="-4.0" rx="2.1" ry="1.8"/><ellipse cx="-7.9" cy="44.0" rx="2.1" ry="1.8"/><ellipse cx="-7.9" cy="92.0" rx="2.1" ry="1.8"/><ellipse cx="55.1" cy="-4.0" rx="2.1" ry="1.8"/><ellipse cx="55.1" cy="44.0" rx="2.1" ry="1.8"/><ellipse cx="55.1" cy="92.0" rx="2.1" ry="1.8"/><ellipse cx="118.1" cy="-4.0" rx="2.1" ry="1.8"/><ellipse cx="118.1" cy="44.0" rx="2.1" ry="1.8"/><ellipse cx="118.1" cy="92.0" rx="2.1" ry="1.8"/></g></pattern>
  <linearGradient id="tis" x1="643" y1="0" x2="880" y2="0" gradientUnits="userSpaceOnUse">
    <stop offset="0" stop-color="#f9e684"/>
    <stop offset="0.15" stop-color="#f8d47c"/>
    <stop offset="0.45" stop-color="#f3a060"/>
    <stop offset="1" stop-color="#ec7a44"/>
  </linearGradient>
  <linearGradient id="fat" x1="650" y1="0" x2="860" y2="0" gradientUnits="userSpaceOnUse">
    <stop offset="0" stop-color="#f6c878" stop-opacity="0"/>
    <stop offset="0.35" stop-color="#f08848"/>
    <stop offset="1" stop-color="#e65a28"/>
  </linearGradient>
  <linearGradient id="eyeG" x1="856" y1="0" x2="1040" y2="0" gradientUnits="userSpaceOnUse">
    <stop offset="0" stop-color="#a8b4ca"/>
    <stop offset="0.38" stop-color="#c4ccdc"/>
    <stop offset="0.5" stop-color="#eceff5"/>
    <stop offset="0.65" stop-color="#fbfbfd"/>
    <stop offset="1" stop-color="#eef0f6"/>
  </linearGradient>
  <linearGradient id="musc" x1="901" y1="0" x2="961" y2="0" gradientUnits="userSpaceOnUse">
    <stop offset="0" stop-color="#d01010"/>
    <stop offset="0.55" stop-color="#d04050"/>
    <stop offset="0.85" stop-color="#90a8b0"/>
    <stop offset="1" stop-color="#60d0d0"/>
  </linearGradient>
  <radialGradient id="iris" cx="0.55" cy="0.48" r="0.55">
    <stop offset="0.4" stop-color="#6a3a04"/>
    <stop offset="0.6" stop-color="#d08a10"/>
    <stop offset="0.85" stop-color="#c87a0c"/>
    <stop offset="1" stop-color="#7a4004"/>
  </radialGradient>
  <linearGradient id="lmus" x1="640" y1="0" x2="940" y2="0" gradientUnits="userSpaceOnUse">
    <stop offset="0" stop-color="#9cc0d0"/>
    <stop offset="0.2" stop-color="#d89090"/>
    <stop offset="0.5" stop-color="#d83030"/>
    <stop offset="1" stop-color="#cc1a1a"/>
  </linearGradient>
  <linearGradient id="nerveG" x1="640" y1="0" x2="860" y2="0" gradientUnits="userSpaceOnUse">
    <stop offset="0" stop-color="#c8c0c0"/>
    <stop offset="1" stop-color="#a8b0c4"/>
  </linearGradient>
  <clipPath id="cEye"><path d="M855,432 C855,392 890,360 940,360 C978,360 1008,375 1026,393 C1036,410 1038,435 1032,451 C1012,478 982,494 946,494 C895,494 855,470 855,432 Z"/></clipPath>
  <clipPath id="cR"><ellipse cx="740.15" cy="348.65" rx="121.15" ry="90.35"/></clipPath>
</defs>

<text x="323.6" y="100" font-size="44" transform="translate(323.6,0) scale(1.356,1) translate(-323.6,0)" fill="#050505">OPTIC ATROPHY</text>

<g id="retL">
  <ellipse cx="229.65" cy="269.2" rx="133.35" ry="98" fill="#0a0a0a"/>
  <ellipse cx="229.65" cy="269.2" rx="123.35" ry="91.5" fill="url(#ret)"/>

  <ellipse cx="166" cy="270.5" rx="19" ry="12" fill="url(#mac)"/>
  <use href="#vessels"/>
  <ellipse cx="276.3" cy="249.3" rx="17" ry="15" fill="url(#disc)"/>
  
  <path d="M112.87,272.24 L112.80,269.66 L112.83,267.07 L112.97,264.50 L113.21,261.92 L113.55,259.35 L113.99,256.79 L114.54,254.24 L115.19,251.71 L115.93,249.19 L116.78,246.68 L117.73,244.20 L118.77,241.74 L119.92,239.30 L121.16,236.89 L122.49,234.51 L123.92,232.16 L125.44,229.84 L127.06,227.55 L128.76,225.31 L130.56,223.10 L132.44,220.93 L134.40,218.80 L136.45,216.72 L138.58,214.69 L140.80,212.70 L143.09,210.76 L145.45,208.87 L147.89,207.04 L150.41,205.26 L152.99,203.54 L155.64,201.88 L158.35,200.27 L161.13,198.73 L163.97,197.24 L166.87,195.82 L169.82,194.47 L172.82,193.18 L175.88,191.96 L178.98,190.81 L182.12,189.72 L182.12,189.72 L179.71,191.95 L177.23,193.92 L174.80,195.84 L172.42,197.74 L170.11,199.64 L167.86,201.53 L165.67,203.43 L163.54,205.32 L161.47,207.22 L159.45,209.12 L157.49,211.02 L155.57,212.92 L153.70,214.83 L151.87,216.73 L150.08,218.64 L148.32,220.55 L146.59,222.47 L144.89,224.39 L143.22,226.32 L141.58,228.26 L139.96,230.21 L138.36,232.18 L136.78,234.15 L135.22,236.15 L133.68,238.16 L132.16,240.19 L130.66,242.25 L129.19,244.34 L127.73,246.45 L126.30,248.60 L124.89,250.77 L123.51,252.99 L122.16,255.24 L120.84,257.53 L119.54,259.86 L118.27,262.24 L117.02,264.66 L115.78,267.13 L114.50,269.65 L112.87,272.24Z" fill="#fff" opacity="0.92" filter="url(#blur2)"/>
  <path d="M345.86,278.29 L345.58,280.10 L345.25,281.91 L344.86,283.71 L344.43,285.50 L343.95,287.29 L343.41,289.07 L342.83,290.84 L342.20,292.60 L341.51,294.35 L340.78,296.08 L340.00,297.81 L339.17,299.53 L338.29,301.23 L337.37,302.91 L336.40,304.59 L335.38,306.24 L334.31,307.88 L333.20,309.51 L332.05,311.11 L330.85,312.70 L329.60,314.27 L328.31,315.82 L326.98,317.35 L325.60,318.85 L324.18,320.34 L322.72,321.80 L321.22,323.24 L319.68,324.66 L318.10,326.05 L316.49,327.41 L314.83,328.76 L313.14,330.07 L311.41,331.36 L309.64,332.62 L307.84,333.85 L306.00,335.06 L304.13,336.23 L302.23,337.38 L300.30,338.50 L298.33,339.58 L298.33,339.58 L299.35,337.56 L300.54,335.78 L301.74,334.07 L302.94,332.40 L304.11,330.75 L305.27,329.13 L306.41,327.53 L307.53,325.95 L308.64,324.39 L309.73,322.85 L310.81,321.32 L311.88,319.81 L312.95,318.32 L314.01,316.84 L315.07,315.37 L316.14,313.92 L317.20,312.47 L318.28,311.04 L319.36,309.62 L320.45,308.20 L321.56,306.79 L322.67,305.38 L323.80,303.97 L324.95,302.56 L326.11,301.15 L327.28,299.73 L328.47,298.31 L329.68,296.88 L330.90,295.43 L332.13,293.98 L333.38,292.50 L334.64,291.01 L335.91,289.50 L337.20,287.97 L338.50,286.42 L339.82,284.84 L341.17,283.24 L342.56,281.61 L344.02,279.96 L345.86,278.29Z" fill="#fff" opacity="0.95" filter="url(#blur2)"/>

</g>
<line x1="284" y1="247.5" x2="435" y2="247.5" stroke="#7a7a7a" stroke-width="1"/>
<text x="442" y="254" font-size="22.7" stroke="#111" stroke-width="0.5" transform="translate(442,0) scale(1.32,1) translate(-442,0)" fill="#111">optic disk</text>

<g id="orbit">
  <!-- lower bone -->
  <path d="M648,488 C675,495 700,499 710,500 C740,501.5 760,502 770,502 C800,503 825,505 850,506 C870,507 885,508 895,508.3 C910,508.7 925,508.7 940,508.2 C955,507 966,504 977.3,499.7 C986,496 993,493 999.8,490 C1006,488 1013,486.8 1019.2,487 C1020,487.5 1020.5,488 1020.7,488.4 C1020,492 1019,496 1017.7,499 C1015,506 1012,512 1010,517 C1007,521 1005.5,524 1004.3,527.4 C1003,534 1002.8,540 1002.8,546.8 C997,543 991,540 984.8,537.8 C977,535 970,533 962.3,531.9 C955,531 948,530.5 940,530.4 C930,530 920,529.5 910,528.9 C900,527 890,525.5 880,524.4 C860,524 845,523.5 830,522.2 C800,520 775,518.5 749.8,517.8 C725,517 705,516.5 689.9,515.8 C675,513 662,509 654,504 C649,499 646,494 648,488 Z" fill="url(#dots)"/>
  <!-- upper bone -->
  <path d="M655.6,445.1 C662,441 672,439 682.4,438.7 C720,432 780,405 840,380 C850,370 860,358 872,351 C885,346 895,342 905,339 C925,334 945,331 955,326 C965,316 972,304 978,298 C983,292 987,287 991,284 C996,287 1000,292 1004,298 C1008,315 1013,335 1016,350 C1017.5,358 1018,364 1017.3,368.4 C1012,369 1007,369 1004,368.4 C998,363 994,358 991.4,356.5 C975,352.5 962,352.5 948,353.2 C932,354 918,356 904.9,358.6 C890,362 880,366 868,371.6 C830,392 780,420 711.5,442.8 C695,446 675,448 655.6,445.1 Z" fill="url(#dots)"/>
  <path d="M656,446 C675,446.5 695,445 711.5,442.8 C730,438 750,432 770,424" stroke="#3a4a20" stroke-width="1" fill="none" opacity="0.8"/>
  <!-- soft tissue -->
  <path d="M643,451 C660,449 690,447 711.5,442.8 C760,428 820,398 868,374 C890,365 910,360 940,358 L960,360 L960,505 C930,507 900,508 880,507 C820,504 760,502 710,500 C690,498 665,492 648,488 C641,480 641,460 643,451 Z" fill="url(#tis)"/>
  <!-- fat region (orange) -->
  <path d="M650,452 C700,446 760,428 820,400 C850,386 880,374 910,366 L930,470 L900,500 C860,497 800,488 760,486 C720,484 690,482 650,480 Z" fill="url(#fat)"/>
  <!-- upper muscle -->
  <path d="M760,436 C800,420 840,396 872,374 C885,368 895,365 910,364 C912,372 900,384 880,396 C850,414 815,430 780,446 Z" fill="#c8302a" opacity="0.95"/>
  <path d="M790,430 C830,410 860,392 900,370" stroke="#901810" stroke-width="0.8" fill="none"/>
  <!-- upper gray streak -->
  <path d="M659,461.5 C690,456 720,451 745,447 C760,445 775,443 790,440 L790,446 C770,450 750,453 730,455 C700,458 680,460 659,462 Z" fill="#b0b4c4" opacity="0.85"/>
  <!-- nerve cone -->
  <path d="M644,467.3 C690,466 740,463 780,458.9 C790,457 800,455 808.3,453.2 C820,449 830,446 836.6,441.9 C845,436 851,430 856.4,424.9 C860,440 864,455 868,470 C855,470 845,470 835,470.5 C815,471 800,471 780,471 C740,472 690,474 644,476 C643,473 643,470 644,467.3 Z" fill="url(#nerveG)"/>
  <path d="M780,458.9 C790,457 800,455 808.3,453.2 C820,449 830,446 836.6,441.9 C845,436 851,430 856.4,424.9" stroke="#7a2a20" stroke-width="1" fill="none" opacity="0.8"/>
  <path d="M650,472.3 C665,470 680,468 690,467 C710,466 730,465.5 750,465 C770,464.5 775,464 780,461.7 C795,459 810,457 822.5,454.6 C835,451 845,447 856.4,441.9 L857,446 C848,452 838,457 825,461 C810,465 795,467 780,468 C770,470.5 760,471 750,471.5 C730,472 715,472.3 710,472.3 C690,473 670,473.5 650,473.5 Z" fill="#9c1c10"/>
  <path d="M644,467 C680,466.5 720,464 760,463" stroke="#9a9aae" stroke-width="1" fill="none" opacity="0.8"/>
  <path d="M730,468 C750,467.5 765,466.5 780,464.5 C800,462 820,459 835,457 C845,455.5 850,454.5 856.4,453.2" stroke="#a8c028" stroke-width="1.6" fill="none"/>
  <path d="M738,467.5 C748,467 755,467 765,466.5" stroke="#e0e020" stroke-width="2.5" fill="none" filter="url(#blur1)"/>
  <path d="M790,468 C810,466 830,463 850,460" stroke="#7a2418" stroke-width="0.8" fill="none" opacity="0.7"/>
  <!-- lower muscle -->
  <path d="M637,484.7 C670,483 700,481 710,480 C730,479 750,478.5 770,478 C800,478 830,481 850,484 C870,486 890,488 910,490 C925,491.5 940,493 950,494 L950,501 C930,500 915,499 900,498 C880,497 865,498 850,498 C820,494 790,490 770,488.5 C750,487.5 730,486.5 710,486 C680,485.5 655,485 637,484.7 Z" fill="url(#lmus)"/>
  <path d="M710,482.5 C740,481 790,482 830,486 C860,490 900,493 945,497" stroke="#a01010" stroke-width="1" fill="none" opacity="0.5"/>
  <!-- thin yellow bands near eye -->
  <path d="M868,372.6 C880,367 892,362 905,359.6 C920,356.5 935,354.5 948,354.2 C962,353.5 975,354 991.4,357.5 C996,361 1001,366 1004,369.4 C1008,370 1013,370 1017.3,369.4 L1008,376 C1000,372 990,365 970,362 C945,359 920,360 900,364 C888,367 878,372 870,377 Z" fill="#f6e48e"/>
  <path d="M880,508 C900,508.5 925,508.7 940,508.2 C955,507 966,504 977.3,499.7 C986,496 993,493 999.8,490 C1006,488 1013,486.8 1019.2,487 L1010,483 C1000,484 990,487 980,491 C965,496 950,499 935,501 C915,503 895,503 880,503 Z" fill="#f6e48e"/>
  <path d="M930,497 C945,496 955,494 965,492" stroke="#86d4e0" stroke-width="1.5" fill="none"/>
  <!-- bone outlines -->
  <path d="M648,488 C675,495 700,499 710,500 C740,501.5 760,502 770,502 C800,503 825,505 850,506 C870,507 885,508 895,508.3 C910,508.7 925,508.7 940,508.2 C955,507 966,504 977.3,499.7 C986,496 993,493 999.8,490 C1006,488 1013,486.8 1019.2,487 C1020,487.5 1020.5,488 1020.7,488.4" stroke="#151515" stroke-width="1.8" fill="none"/>
  <path d="M1020.7,488.4 C1020,492 1019,496 1017.7,499 C1015,506 1012,512 1010,517 C1007,521 1005.5,524 1004.3,527.4" stroke="#333" stroke-width="1.2" fill="none"/>
  <path d="M868,371.6 C880,366 890,362 904.9,358.6 C918,356 932,354 948,353.2 C962,352.5 975,352.5 991.4,356.5 C994,358 998,363 1004,368.4 C1007,369 1012,369 1017.3,368.4" stroke="#151515" stroke-width="1.8" fill="none"/>
  <path d="M997,288 C1001,293 1003,298 1004,298 C1008,315 1013,335 1016,350 C1017.5,358 1018,364 1017.3,368.4" stroke="#333" stroke-width="1.2" fill="none"/>
  <!-- eyeball -->
  <path d="M855,432 C855,392 890,360 940,360 C978,360 1008,375 1026,393 C1036,410 1038,435 1032,451 C1012,478 982,494 946,494 C895,494 855,470 855,432 Z" fill="url(#eyeG)" stroke="#5a5aa8" stroke-width="1.1"/>
  <path d="M936.8,364 C945,375 943,390 934.4,403.2 C928,420 925,440 927.2,458.7 C929,470 935,482 941.6,493.5 C900,492 860,468 856,432 C856,395 890,365 936.8,364 Z" fill="#9aa8c2" opacity="0.55"/>
  <g clip-path="url(#cEye)"><path d="M860.1,399.7 L864.6,394.4 L869.4,389.2 L874.0,384.0 L878.0,378.3 L882.7,373.0 L887.8,368.3 L892.8,363.4 L897.8,358.5 M874.0,384.0 L877.1,377.7 L879.4,371.1 L882.3,364.7 L886.2,358.9 M859.1,402.4 L863.9,397.3 L869.5,393.1 L875.4,389.4 L881.2,385.4 L886.7,381.2 L892.9,377.8 L899.0,374.4 L905.2,371.2 L911.5,368.1 L918.1,365.9 L924.1,362.2 L930.3,359.0 M875.4,389.4 L878.4,383.1 L881.9,377.0 L885.3,370.9 L887.9,364.4 M858.1,406.1 L863.6,401.8 L869.6,398.2 L875.0,393.7 L879.8,388.6 L885.0,383.9 L890.7,379.9 L896.6,376.1 L903.1,373.4 L909.8,371.4 L916.7,370.3 L923.3,367.9 L929.8,365.4 M916.7,370.3 L923.7,370.8 L930.7,370.4 L937.6,369.1 L944.3,367.4 L950.9,365.0 L957.8,363.5 M857.3,410.8 L862.8,406.4 L867.6,401.4 L873.0,396.9 L879.1,393.5 L885.3,390.2 L891.4,386.8 L897.6,383.5 L904.0,380.8 L910.2,377.4 L916.4,374.2 M873.0,396.9 L877.8,391.8 L882.4,386.5 L887.6,381.8 L893.5,378.1 M856.7,416.3 L862.9,413.0 L869.5,410.9 L875.9,407.9 L882.2,404.8 L888.1,401.1 L893.4,396.5 L898.8,392.1 L904.7,388.3 L910.2,384.0 M875.9,407.9 L878.5,401.4 L881.0,394.9 L884.9,389.0 L888.3,383.0 M856.2,422.3 L863.2,421.6 L870.2,421.5 L877.2,421.1 L884.2,421.6 L891.1,420.7 L898.0,419.1 L904.6,417.0 L911.3,414.8 M877.2,421.1 L884.2,422.0 L890.9,423.7 L897.6,425.7 M856.0,428.7 L862.9,427.6 L869.9,427.7 L876.9,427.8 L883.9,428.4 L890.9,427.7 L897.7,426.3 L904.7,425.9 L911.7,426.2 L918.6,427.3 L925.5,428.6 M911.7,426.2 L917.8,429.6 L924.1,432.7 L930.7,435.0 L937.2,437.6 L944.1,438.7 M856.0,435.3 L862.8,436.9 L869.8,437.2 L876.8,437.8 L883.7,438.8 L890.5,440.5 L897.3,442.4 L904.2,443.5 L911.1,444.3 L917.9,446.2 L924.3,449.0 L931.1,450.6 L938.1,451.2 M876.8,437.8 L883.4,435.6 L890.3,434.5 L897.3,433.9 L904.2,432.6 L911.1,431.5 M856.2,441.7 L863.1,443.2 L870.0,444.0 L877.0,444.0 L884.0,443.4 L891.0,442.6 L898.0,442.7 L905.0,443.0 L911.9,442.3 L918.9,442.3 M911.9,442.3 L918.2,439.1 L924.2,435.5 L930.7,432.9 M856.7,447.7 L863.0,450.7 L869.6,453.0 L876.0,455.8 L882.6,458.2 L889.5,459.4 L896.4,460.5 L903.4,461.2 L910.1,463.2 M882.6,458.2 L887.2,463.5 L892.0,468.6 L896.6,473.9 M857.3,453.2 L863.7,456.2 L869.7,459.6 L875.8,463.1 L881.8,466.7 L888.3,469.3 L894.4,472.7 L899.9,477.1 L905.6,481.1 L911.6,484.7 L916.9,489.3 L922.9,492.9 L929.4,495.6 L936.2,497.3 L942.7,499.9 M911.6,484.7 L918.6,484.3 L925.6,484.4 L932.5,485.9 L939.4,486.5 L946.4,486.4 L953.4,487.0 M858.1,457.9 L864.0,461.7 L869.8,465.7 L875.6,469.5 L881.5,473.2 L887.0,477.6 L892.6,481.7 L898.5,485.5 L904.7,488.8 M898.5,485.5 L905.4,486.8 L912.1,488.8 L918.9,490.4 M859.1,461.6 L863.7,466.8 L868.2,472.2 L872.2,477.9 L876.2,483.7 L879.5,489.9 L883.5,495.6 L887.7,501.3 L891.9,506.8 L896.6,512.0 L901.5,517.0 M868.2,472.2 L874.6,475.0 L881.2,477.4 L887.6,480.2 L894.2,482.5 M860.1,464.3 L863.3,470.5 L866.0,476.9 L869.0,483.3 L873.0,489.1 L875.9,495.4 L878.6,501.9 L882.0,508.0 L885.9,513.8 L889.5,519.8 M882.0,508.0 L887.7,512.1 L893.4,516.1 L898.5,520.9 L903.9,525.4 L908.8,530.3" stroke="#8a6454" stroke-width="0.8" fill="none" opacity="0.75" stroke-linejoin="round"/></g>
  <path d="M935,478 C945,474 955,470 962,462 M945,484 C955,480 965,476 975,470 M958,488 C968,484 978,478 986,470 M925,470 C935,466 942,460 948,452 M968,458 C972,454 975,450 980,446" stroke="#a07866" stroke-width="0.8" fill="none" opacity="0.7"/>
  <path d="M899.4,415.3 L962,406.8 C957,420 955,440 957.3,455 L900.6,450.2 Z" fill="url(#musc)"/>
  <path d="M905,421.0 Q930,415.5 952.0,410.0 M905,424.0 Q930,419.6 951.2,415.2 M905,427.0 Q930,423.8 950.6,420.5 M905,430.0 Q930,427.9 950.2,425.8 M905,433.0 Q930,432.0 950.0,431.0 M905,436.0 Q930,436.1 950.2,436.2 M905,439.0 Q930,440.2 950.6,441.5 M905,442.0 Q930,444.4 951.2,446.8 M905,445.0 Q930,448.5 952.0,452.0" stroke="#7a0808" stroke-width="0.9" opacity="0.45" fill="none"/>
  <ellipse cx="903" cy="432.8" rx="5.5" ry="17.5" fill="#b8000c"/>
  <ellipse cx="905" cy="432.8" rx="2.5" ry="11" fill="#d81818" opacity="0.7"/>
  <ellipse cx="1025.6" cy="423" rx="18.1" ry="30" fill="url(#iris)"/>
  <path d="M1041.0,422.0 L1042.1,423.0 M1040.7,425.8 L1041.7,429.2 M1039.8,429.4 L1040.5,435.1 M1038.3,432.6 L1038.5,440.5 M1036.3,435.3 L1035.9,444.9 M1033.9,437.3 L1032.8,448.2 M1031.3,438.6 L1029.3,450.3 M1028.5,439.0 L1025.6,451.0 M1025.7,438.6 L1021.9,450.3 M1023.1,437.3 L1018.4,448.2 M1020.7,435.3 L1015.3,444.9 M1018.7,432.6 L1012.7,440.5 M1017.2,429.4 L1010.7,435.1 M1016.3,425.8 L1009.5,429.2 M1016.0,422.0 L1009.1,423.0 M1016.3,418.2 L1009.5,416.8 M1017.2,414.6 L1010.7,410.9 M1018.7,411.4 L1012.7,405.5 M1020.7,408.7 L1015.3,401.1 M1023.1,406.7 L1018.4,397.8 M1025.7,405.4 L1021.9,395.7 M1028.5,405.0 L1025.6,395.0 M1031.3,405.4 L1029.3,395.7 M1033.9,406.7 L1032.8,397.8 M1036.3,408.7 L1035.9,401.1 M1038.3,411.4 L1038.5,405.5 M1039.8,414.6 L1040.5,410.9 M1040.7,418.2 L1041.7,416.8" stroke="#8a4a00" stroke-width="1" opacity="0.55" fill="none"/>
  <ellipse cx="1025.6" cy="423" rx="18.1" ry="30" fill="none" stroke="#3a1a00" stroke-width="2.2"/>
  <path d="M1017,418 C1016,408 1020,404 1028,405 C1036,405 1041,412 1041,422 C1041,432 1037,439 1029,439 C1021,439 1017,430 1017,418 Z" fill="#0c0805"/>
  <ellipse cx="1031" cy="402.5" rx="4" ry="3" fill="#f8f0c0" opacity="0.8"/>
  <ellipse cx="1031" cy="410" rx="3" ry="2" fill="#fff"/>
</g>


<g id="retR">
  <ellipse cx="740.15" cy="348.65" rx="131.15" ry="96.85" fill="#0a0a0a"/>
  <ellipse cx="740.15" cy="348.65" rx="121.15" ry="90.35" fill="url(#ret)"/>

  <g clip-path="url(#cR)">
    <path d="M600,448 C650,438 700,425 750,408 C790,394 830,380 880,360 L880,460 L600,460 Z" fill="url(#dots2)" opacity="0.9"/>
    <path d="M700,447 C740,438 790,425 830,416 C845,412 860,408 880,402 L880,460 L690,460 Z" fill="#a82418" opacity="0.9"/>
    <path d="M700,447 C740,438 790,425 830,416 C845,412 860,408 880,402" stroke="#151515" stroke-width="1.3" fill="none"/>
  </g>
  <ellipse cx="676" cy="349.5" rx="19" ry="12" fill="url(#mac)"/>
  <g transform="translate(510,78)"><use href="#vessels"/></g>
  <ellipse cx="789" cy="331" rx="42" ry="32" fill="url(#atro)" filter="url(#blur1)"/>
  
  <path d="M625.57,351.65 L625.50,349.10 L625.53,346.55 L625.67,344.01 L625.90,341.47 L626.24,338.93 L626.67,336.41 L627.21,333.89 L627.84,331.39 L628.58,328.90 L629.41,326.43 L630.34,323.98 L631.36,321.55 L632.48,319.15 L633.70,316.77 L635.01,314.42 L636.41,312.10 L637.91,309.81 L639.49,307.55 L641.16,305.34 L642.92,303.16 L644.77,301.02 L646.70,298.92 L648.71,296.86 L650.80,294.86 L652.97,292.89 L655.22,290.98 L657.54,289.12 L659.93,287.31 L662.40,285.56 L664.93,283.86 L667.53,282.22 L670.20,280.63 L672.92,279.11 L675.71,277.65 L678.55,276.24 L681.44,274.91 L684.39,273.64 L687.39,272.43 L690.43,271.29 L693.52,270.22 L693.52,270.22 L691.17,272.44 L688.74,274.39 L686.37,276.30 L684.05,278.18 L681.79,280.06 L679.59,281.93 L677.46,283.81 L675.38,285.68 L673.36,287.56 L671.40,289.43 L669.48,291.31 L667.61,293.19 L665.78,295.07 L664.00,296.95 L662.25,298.84 L660.53,300.73 L658.85,302.62 L657.19,304.51 L655.56,306.41 L653.95,308.32 L652.36,310.24 L650.79,312.18 L649.24,314.12 L647.71,316.08 L646.20,318.07 L644.70,320.07 L643.23,322.10 L641.77,324.15 L640.34,326.23 L638.92,328.34 L637.53,330.49 L636.17,332.67 L634.83,334.89 L633.51,337.14 L632.23,339.44 L630.97,341.79 L629.72,344.17 L628.48,346.61 L627.20,349.09 L625.57,351.65Z" fill="#fff" opacity="0.92" filter="url(#blur2)"/>
  <path d="M854.17,357.62 L853.90,359.41 L853.57,361.19 L853.19,362.97 L852.77,364.74 L852.29,366.50 L851.77,368.25 L851.20,370.00 L850.58,371.74 L849.91,373.46 L849.19,375.18 L848.42,376.88 L847.61,378.57 L846.75,380.25 L845.84,381.92 L844.89,383.57 L843.89,385.20 L842.84,386.82 L841.75,388.42 L840.62,390.01 L839.44,391.57 L838.22,393.12 L836.95,394.65 L835.64,396.16 L834.29,397.65 L832.90,399.11 L831.47,400.55 L830.00,401.98 L828.49,403.37 L826.94,404.75 L825.35,406.09 L823.73,407.42 L822.06,408.72 L820.37,409.99 L818.63,411.23 L816.87,412.45 L815.06,413.64 L813.23,414.80 L811.36,415.93 L809.47,417.03 L807.54,418.10 L807.54,418.10 L808.52,416.10 L809.67,414.33 L810.84,412.63 L812.00,410.98 L813.14,409.35 L814.27,407.74 L815.37,406.16 L816.46,404.60 L817.53,403.06 L818.59,401.53 L819.64,400.02 L820.69,398.53 L821.72,397.05 L822.76,395.59 L823.79,394.15 L824.83,392.71 L825.87,391.29 L826.92,389.88 L827.98,388.47 L829.05,387.07 L830.13,385.68 L831.22,384.30 L832.33,382.91 L833.46,381.52 L834.60,380.13 L835.75,378.74 L836.93,377.34 L838.12,375.93 L839.32,374.51 L840.54,373.07 L841.77,371.62 L843.02,370.15 L844.28,368.67 L845.56,367.16 L846.85,365.63 L848.16,364.08 L849.50,362.50 L850.88,360.89 L852.34,359.26 L854.17,357.62Z" fill="#fff" opacity="0.95" filter="url(#blur2)"/>

</g>

<text x="838" y="266" font-size="22.7" stroke="#111" stroke-width="0.5" transform="translate(838,0) scale(1.339,1) translate(-838,0)" fill="#111">optic nerve atrophy</text>
<line x1="767" y1="468" x2="767" y2="552" stroke="#9a9a9a" stroke-width="1.5"/>
<text x="704" y="572" font-size="22.7" stroke="#111" stroke-width="0.5" transform="translate(704,0) scale(1.25,1) translate(-704,0)" fill="#111">optic nerve</text>
</svg>
</body></html>
